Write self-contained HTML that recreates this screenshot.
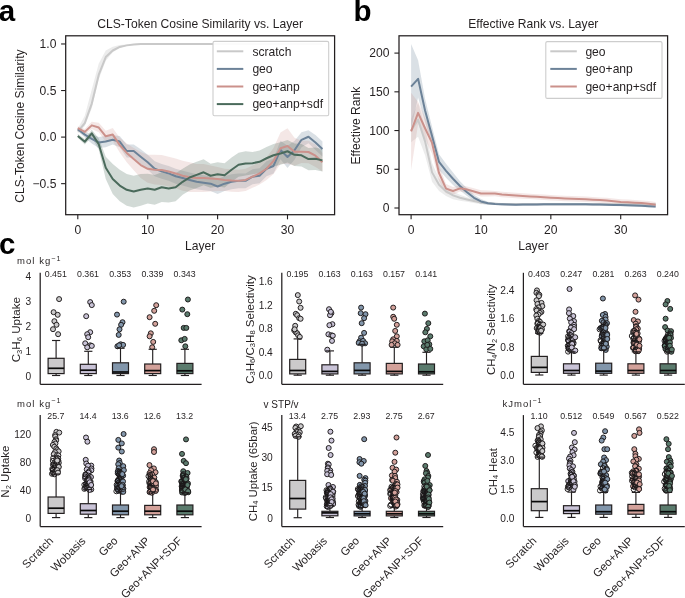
<!DOCTYPE html>
<html><head><meta charset="utf-8"><style>
html,body{margin:0;padding:0;background:#fff;width:685px;height:598px;overflow:hidden}
svg{display:block;font-family:"Liberation Sans", sans-serif;will-change:transform}
</style></head><body>
<svg width="685" height="598" viewBox="0 0 685 598">
<rect width="685" height="598" fill="#fff"/>
<text x="-1.20" y="20.70" font-size="29.5" text-anchor="start" font-weight="bold" fill="#000" >a</text>
<text x="353.60" y="20.70" font-size="29.5" text-anchor="start" font-weight="bold" fill="#000" >b</text>
<text x="-1.00" y="254.30" font-size="29.5" text-anchor="start" font-weight="bold" fill="#000" >c</text>
<defs><clipPath id="ca"><rect x="65.7" y="35.8" width="268.90000000000003" height="178.89999999999998"/></clipPath><clipPath id="cb"><rect x="399" y="35.8" width="268.6" height="178.9"/></clipPath></defs>
<polygon points="77.80,128.72 84.79,115.68 91.78,89.60 98.77,63.53 105.76,50.49 112.75,46.76 119.74,45.09 126.73,44.44 133.72,43.97 140.71,43.50 147.70,43.50 154.69,43.50 161.68,43.50 168.67,43.50 175.66,43.50 182.65,43.50 189.64,43.50 196.63,43.50 203.62,43.50 210.61,43.50 217.60,43.50 224.59,43.50 231.58,43.50 238.57,43.50 245.56,43.50 252.55,43.50 259.54,43.50 266.53,43.50 273.52,43.50 280.51,43.50 287.50,43.50 294.49,43.50 301.48,43.50 308.47,43.50 315.46,43.50 322.45,43.50 322.45,44.44 315.46,44.44 308.47,44.44 301.48,44.44 294.49,44.44 287.50,44.44 280.51,44.44 273.52,44.44 266.53,44.44 259.54,44.44 252.55,44.44 245.56,44.44 238.57,44.44 231.58,44.44 224.59,44.44 217.60,44.44 210.61,44.44 203.62,44.44 196.63,44.44 189.64,44.44 182.65,44.44 175.66,44.44 168.67,44.44 161.68,44.44 154.69,44.44 147.70,44.44 140.71,44.44 133.72,44.90 126.73,45.83 119.74,47.88 112.75,52.35 105.76,60.73 98.77,79.36 91.78,108.23 84.79,125.92 77.80,133.37" fill="#c9c9c9" fill-opacity="0.35" clip-path="url(#ca)"/>
<polygon points="77.80,127.41 84.79,131.79 91.78,134.31 98.77,136.91 105.76,135.98 112.75,135.14 119.74,135.98 126.73,144.55 133.72,144.55 140.71,149.21 147.70,154.79 154.69,161.31 161.68,163.92 168.67,165.97 175.66,168.76 182.65,170.63 189.64,172.49 196.63,174.35 203.62,175.28 210.61,176.21 217.60,179.01 224.59,176.21 231.58,174.35 238.57,173.42 245.56,173.42 252.55,169.23 259.54,168.30 266.53,161.31 273.52,158.52 280.51,140.64 287.50,145.76 294.49,141.01 301.48,132.35 308.47,130.21 315.46,135.05 322.45,141.48 322.45,156.38 315.46,149.95 308.47,143.25 301.48,147.25 294.49,159.64 287.50,168.11 280.51,159.26 273.52,173.42 266.53,176.21 259.54,183.20 252.55,184.13 245.56,188.32 238.57,188.32 231.58,189.25 224.59,191.12 217.60,193.91 210.61,191.12 203.62,190.18 196.63,189.25 189.64,187.39 182.65,185.53 175.66,183.66 168.67,180.87 161.68,178.82 154.69,176.21 147.70,169.70 140.71,164.11 133.72,157.59 126.73,157.59 119.74,147.16 112.75,144.46 105.76,147.16 98.77,148.09 91.78,143.62 84.79,137.38 77.80,131.14" fill="#6c8298" fill-opacity="0.25" clip-path="url(#ca)"/>
<polygon points="77.80,126.20 84.79,129.09 91.78,121.64 98.77,122.85 105.76,130.67 112.75,128.07 119.74,137.66 126.73,143.62 133.72,147.90 140.71,152.00 147.70,154.79 154.69,154.79 161.68,155.07 168.67,156.66 175.66,158.52 182.65,160.85 189.64,162.25 196.63,164.11 203.62,164.11 210.61,165.50 217.60,166.90 224.59,168.76 231.58,169.32 238.57,169.70 245.56,168.76 252.55,165.50 259.54,162.25 266.53,157.59 273.52,147.90 280.51,132.44 287.50,128.25 294.49,137.85 301.48,140.64 308.47,140.83 315.46,144.55 322.45,152.93 322.45,171.56 315.46,166.90 308.47,163.18 301.48,162.99 294.49,165.78 287.50,163.64 280.51,164.11 273.52,173.98 266.53,179.94 259.54,184.60 252.55,187.86 245.56,191.12 238.57,192.05 231.58,191.67 224.59,191.12 217.60,191.12 210.61,191.58 203.62,192.05 196.63,192.05 189.64,192.05 182.65,190.65 175.66,188.32 168.67,186.46 161.68,184.88 154.69,184.60 147.70,182.73 140.71,178.08 133.72,170.25 126.73,162.25 119.74,152.56 112.75,141.10 105.76,141.85 98.77,132.16 91.78,129.09 84.79,134.68 77.80,129.93" fill="#cb918b" fill-opacity="0.22" clip-path="url(#ca)"/>
<polygon points="77.80,134.12 84.79,138.96 91.78,129.65 98.77,138.59 105.76,156.66 112.75,164.11 119.74,169.70 126.73,173.98 133.72,175.75 140.71,173.98 147.70,173.70 154.69,174.91 161.68,172.30 168.67,174.63 175.66,173.23 182.65,168.76 189.64,164.48 196.63,161.87 203.62,159.26 210.61,163.64 217.60,162.25 224.59,163.18 231.58,157.59 238.57,152.65 245.56,151.35 252.55,152.00 259.54,150.60 266.53,147.06 273.52,144.08 280.51,142.32 287.50,140.08 294.49,143.62 301.48,144.08 308.47,147.90 315.46,147.62 322.45,149.21 322.45,171.56 315.46,169.97 308.47,170.25 301.48,166.44 294.49,165.97 287.50,162.43 280.51,164.67 273.52,166.44 266.53,169.42 259.54,172.96 252.55,174.35 245.56,175.56 238.57,176.87 231.58,181.80 224.59,187.39 217.60,186.46 210.61,187.86 203.62,185.34 196.63,187.95 189.64,190.56 182.65,194.84 175.66,201.17 168.67,202.57 161.68,202.10 154.69,204.71 147.70,203.50 140.71,205.64 133.72,207.41 126.73,205.64 119.74,201.36 112.75,193.91 105.76,179.01 98.77,149.77 91.78,137.10 84.79,144.55 77.80,137.85" fill="#4a6a5b" fill-opacity="0.25" clip-path="url(#ca)"/>
<polyline points="77.80,131.51 84.79,123.13 91.78,103.57 98.77,74.70 105.76,57.01 112.75,50.49 119.74,46.95 126.73,45.37 133.72,44.44 140.71,43.97 147.70,43.97 154.69,43.97 161.68,43.97 168.67,43.97 175.66,43.97 182.65,43.97 189.64,43.97 196.63,43.97 203.62,43.97 210.61,43.97 217.60,43.97 224.59,43.97 231.58,43.97 238.57,43.97 245.56,43.97 252.55,43.97 259.54,43.97 266.53,43.97 273.52,43.97 280.51,43.97 287.50,43.97 294.49,43.97 301.48,43.97 308.47,43.97 315.46,43.97 322.45,43.97" fill="none" stroke="#c9c9c9" stroke-width="2.0" stroke-linejoin="round" stroke-linecap="butt" clip-path="url(#ca)"/>
<polyline points="77.80,129.28 84.79,134.59 91.78,138.96 98.77,142.50 105.76,141.57 112.75,139.80 119.74,141.57 126.73,151.07 133.72,151.07 140.71,156.66 147.70,162.25 154.69,168.76 161.68,171.37 168.67,173.42 175.66,176.21 182.65,178.08 189.64,179.94 196.63,181.80 203.62,182.73 210.61,183.66 217.60,186.46 224.59,183.66 231.58,181.80 238.57,180.87 245.56,180.87 252.55,176.68 259.54,175.75 266.53,168.76 273.52,165.97 280.51,149.95 287.50,156.94 294.49,150.32 301.48,139.80 308.47,136.73 315.46,142.50 322.45,148.93" fill="none" stroke="#6c8298" stroke-width="2.0" stroke-linejoin="round" stroke-linecap="butt" clip-path="url(#ca)"/>
<polyline points="77.80,128.07 84.79,131.88 91.78,125.37 98.77,127.51 105.76,136.26 112.75,134.59 119.74,145.11 126.73,152.93 133.72,159.08 140.71,165.04 147.70,168.76 154.69,169.70 161.68,169.97 168.67,171.56 175.66,173.42 182.65,175.75 189.64,177.15 196.63,178.08 203.62,178.08 210.61,178.54 217.60,179.01 224.59,179.94 231.58,180.50 238.57,180.87 245.56,179.94 252.55,176.68 259.54,173.42 266.53,168.76 273.52,160.94 280.51,148.28 287.50,145.95 294.49,151.81 301.48,151.81 308.47,152.00 315.46,155.73 322.45,162.25" fill="none" stroke="#cb918b" stroke-width="2.0" stroke-linejoin="round" stroke-linecap="butt" clip-path="url(#ca)"/>
<polyline points="77.80,135.98 84.79,141.76 91.78,133.37 98.77,144.18 105.76,167.83 112.75,179.01 119.74,185.53 126.73,189.81 133.72,191.58 140.71,189.81 147.70,188.60 154.69,189.81 161.68,187.20 168.67,188.60 175.66,187.20 182.65,181.80 189.64,177.52 196.63,174.91 203.62,172.30 210.61,175.75 217.60,174.35 224.59,175.28 231.58,169.70 238.57,164.76 245.56,163.46 252.55,163.18 259.54,161.78 266.53,158.24 273.52,155.26 280.51,153.49 287.50,151.26 294.49,154.79 301.48,155.26 308.47,159.08 315.46,158.80 322.45,160.38" fill="none" stroke="#4a6a5b" stroke-width="2.0" stroke-linejoin="round" stroke-linecap="butt" clip-path="url(#ca)"/>
<rect x="65.70" y="35.80" width="268.90" height="178.90" fill="none" stroke="#231f20" stroke-width="1.25"/>
<line x1="61.10" y1="43.97" x2="65.70" y2="43.97" stroke="#231f20" stroke-width="1.1" />
<text x="56.40" y="48.32" font-size="12.1" text-anchor="end" font-weight="normal" fill="#231f20" >1.0</text>
<line x1="61.10" y1="90.53" x2="65.70" y2="90.53" stroke="#231f20" stroke-width="1.1" />
<text x="56.40" y="94.88" font-size="12.1" text-anchor="end" font-weight="normal" fill="#231f20" >0.5</text>
<line x1="61.10" y1="137.10" x2="65.70" y2="137.10" stroke="#231f20" stroke-width="1.1" />
<text x="56.40" y="141.45" font-size="12.1" text-anchor="end" font-weight="normal" fill="#231f20" >0.0</text>
<line x1="61.10" y1="183.66" x2="65.70" y2="183.66" stroke="#231f20" stroke-width="1.1" />
<text x="56.40" y="188.01" font-size="12.1" text-anchor="end" font-weight="normal" fill="#231f20" >−0.5</text>
<line x1="77.80" y1="214.70" x2="77.80" y2="219.30" stroke="#231f20" stroke-width="1.1" />
<text x="77.80" y="233.70" font-size="12.1" text-anchor="middle" font-weight="normal" fill="#231f20" >0</text>
<line x1="147.70" y1="214.70" x2="147.70" y2="219.30" stroke="#231f20" stroke-width="1.1" />
<text x="147.70" y="233.70" font-size="12.1" text-anchor="middle" font-weight="normal" fill="#231f20" >10</text>
<line x1="217.60" y1="214.70" x2="217.60" y2="219.30" stroke="#231f20" stroke-width="1.1" />
<text x="217.60" y="233.70" font-size="12.1" text-anchor="middle" font-weight="normal" fill="#231f20" >20</text>
<line x1="287.50" y1="214.70" x2="287.50" y2="219.30" stroke="#231f20" stroke-width="1.1" />
<text x="287.50" y="233.70" font-size="12.1" text-anchor="middle" font-weight="normal" fill="#231f20" >30</text>
<text x="200.15" y="27.80" font-size="12.1" text-anchor="middle" font-weight="normal" fill="#231f20" >CLS-Token Cosine Similarity vs. Layer</text>
<text x="200.15" y="249.80" font-size="12.1" text-anchor="middle" font-weight="normal" fill="#231f20" >Layer</text>
<text transform="translate(23.9,126.0) rotate(-90)" x="0" y="0" font-size="12.1" text-anchor="middle" fill="#231f20">CLS-Token Cosine Similarity</text>
<rect x="213" y="41.4" width="115.7" height="74.4" rx="1.5" fill="#fff" fill-opacity="0.92" stroke="#cdcdcd" stroke-width="1.1"/>
<line x1="216.80" y1="51.30" x2="243.30" y2="51.30" stroke="#c9c9c9" stroke-width="2.0" />
<text x="252.40" y="55.60" font-size="12.1" text-anchor="start" font-weight="normal" fill="#231f20" >scratch</text>
<line x1="216.80" y1="68.90" x2="243.30" y2="68.90" stroke="#6c8298" stroke-width="2.0" />
<text x="252.40" y="73.20" font-size="12.1" text-anchor="start" font-weight="normal" fill="#231f20" >geo</text>
<line x1="216.80" y1="86.50" x2="243.30" y2="86.50" stroke="#cb918b" stroke-width="2.0" />
<text x="252.40" y="90.80" font-size="12.1" text-anchor="start" font-weight="normal" fill="#231f20" >geo+anp</text>
<line x1="216.80" y1="104.10" x2="243.30" y2="104.10" stroke="#4a6a5b" stroke-width="2.0" />
<text x="252.40" y="108.40" font-size="12.1" text-anchor="start" font-weight="normal" fill="#231f20" >geo+anp+sdf</text>
<polygon points="411.10,118.93 418.09,102.67 425.07,127.45 432.06,163.08 439.05,178.57 446.04,186.78 453.02,191.50 460.01,194.68 467.00,197.16 473.98,199.09 480.97,201.03 487.96,202.19 494.94,202.81 501.93,203.20 508.92,203.35 515.90,203.43 522.89,203.43 529.88,203.43 536.87,203.43 543.85,203.43 550.84,203.43 557.83,203.43 564.81,203.43 571.80,203.43 578.79,203.43 585.78,203.43 592.76,203.43 599.75,203.43 606.74,203.43 613.72,203.43 620.71,203.43 627.70,203.43 634.68,203.43 641.67,203.43 648.66,203.43 655.64,203.43 655.64,205.29 648.66,205.29 641.67,205.29 634.68,205.29 627.70,205.29 620.71,205.29 613.72,205.29 606.74,205.29 599.75,205.29 592.76,205.29 585.78,205.29 578.79,205.29 571.80,205.29 564.81,205.29 557.83,205.29 550.84,205.29 543.85,205.29 536.87,205.29 529.88,205.29 522.89,205.29 515.90,205.29 508.92,205.21 501.93,205.06 494.94,204.67 487.96,204.51 480.97,204.13 473.98,202.97 467.00,201.80 460.01,200.87 453.02,199.25 446.04,196.07 439.05,190.96 432.06,181.67 425.07,155.33 418.09,136.75 411.10,142.17" fill="#c9c9c9" fill-opacity="0.35" clip-path="url(#cb)"/>
<polygon points="411.10,44.04 418.09,60.23 425.07,98.80 432.06,126.68 439.05,154.25 446.04,163.85 453.02,172.53 460.01,181.28 467.00,188.33 473.98,194.68 480.97,199.09 487.96,201.73 494.94,202.73 501.93,203.12 508.92,203.35 515.90,203.51 522.89,203.43 529.88,203.35 536.87,203.28 543.85,203.20 550.84,203.12 557.83,203.12 564.81,203.12 571.80,203.12 578.79,203.12 585.78,203.12 592.76,203.28 599.75,203.43 606.74,203.59 613.72,203.74 620.71,203.90 627.70,204.13 634.68,204.36 641.67,204.67 648.66,204.98 655.64,205.37 655.64,207.69 648.66,207.30 641.67,206.99 634.68,206.68 627.70,206.45 620.71,206.22 613.72,206.06 606.74,205.91 599.75,205.75 592.76,205.60 585.78,205.44 578.79,205.44 571.80,205.44 564.81,205.44 557.83,205.44 550.84,205.44 543.85,205.52 536.87,205.60 529.88,205.68 522.89,205.75 515.90,205.83 508.92,205.68 501.93,205.44 494.94,205.06 487.96,204.82 480.97,203.74 473.98,200.87 467.00,196.07 460.01,190.57 453.02,184.92 446.04,177.79 439.05,169.74 432.06,145.27 425.07,122.03 418.09,97.40 411.10,129.23" fill="#6c8298" fill-opacity="0.25" clip-path="url(#cb)"/>
<polygon points="411.10,92.68 418.09,102.05 425.07,117.38 432.06,132.10 439.05,165.40 446.04,183.99 453.02,187.09 460.01,185.23 467.00,186.39 473.98,188.33 480.97,190.34 487.96,190.42 494.94,190.88 501.93,191.74 508.92,192.28 515.90,192.82 522.89,193.21 529.88,193.67 536.87,194.14 543.85,194.52 550.84,194.99 557.83,195.38 564.81,195.76 571.80,196.00 578.79,196.23 585.78,196.46 592.76,196.92 599.75,197.39 606.74,197.85 613.72,198.47 620.71,199.17 627.70,199.56 634.68,199.95 641.67,200.41 648.66,201.11 655.64,202.11 655.64,207.54 648.66,206.53 641.67,205.83 634.68,205.37 627.70,204.98 620.71,204.59 613.72,203.90 606.74,203.28 599.75,202.81 592.76,202.35 585.78,201.88 578.79,201.65 571.80,201.42 564.81,201.18 557.83,200.80 550.84,200.41 543.85,199.95 536.87,199.56 529.88,199.09 522.89,198.63 515.90,198.24 508.92,197.70 501.93,197.16 494.94,196.31 487.96,196.61 480.97,196.54 473.98,194.52 467.00,192.59 460.01,191.43 453.02,194.83 446.04,193.28 439.05,180.89 432.06,153.78 425.07,139.07 418.09,123.73 411.10,170.13" fill="#cb918b" fill-opacity="0.22" clip-path="url(#cb)"/>
<polyline points="411.10,130.55 418.09,119.71 425.07,141.39 432.06,172.37 439.05,184.76 446.04,191.43 453.02,195.38 460.01,197.78 467.00,199.48 473.98,201.03 480.97,202.58 487.96,203.35 494.94,203.74 501.93,204.13 508.92,204.28 515.90,204.36 522.89,204.36 529.88,204.36 536.87,204.36 543.85,204.36 550.84,204.36 557.83,204.36 564.81,204.36 571.80,204.36 578.79,204.36 585.78,204.36 592.76,204.36 599.75,204.36 606.74,204.36 613.72,204.36 620.71,204.36 627.70,204.36 634.68,204.36 641.67,204.36 648.66,204.36 655.64,204.36" fill="none" stroke="#c9c9c9" stroke-width="2.0" stroke-linejoin="round" stroke-linecap="butt" clip-path="url(#cb)"/>
<polyline points="411.10,86.64 418.09,78.81 425.07,110.41 432.06,135.97 439.05,161.99 446.04,170.82 453.02,178.72 460.01,185.93 467.00,192.20 473.98,197.78 480.97,201.42 487.96,203.28 494.94,203.90 501.93,204.28 508.92,204.51 515.90,204.67 522.89,204.59 529.88,204.51 536.87,204.44 543.85,204.36 550.84,204.28 557.83,204.28 564.81,204.28 571.80,204.28 578.79,204.28 585.78,204.28 592.76,204.44 599.75,204.59 606.74,204.75 613.72,204.90 620.71,205.06 627.70,205.29 634.68,205.52 641.67,205.83 648.66,206.14 655.64,206.53" fill="none" stroke="#6c8298" stroke-width="2.0" stroke-linejoin="round" stroke-linecap="butt" clip-path="url(#cb)"/>
<polyline points="411.10,131.40 418.09,112.89 425.07,128.23 432.06,142.94 439.05,173.15 446.04,188.64 453.02,190.96 460.01,188.33 467.00,189.49 473.98,191.43 480.97,193.44 487.96,193.52 494.94,193.59 501.93,194.45 508.92,194.99 515.90,195.53 522.89,195.92 529.88,196.38 536.87,196.85 543.85,197.23 550.84,197.70 557.83,198.09 564.81,198.47 571.80,198.71 578.79,198.94 585.78,199.17 592.76,199.64 599.75,200.10 606.74,200.56 613.72,201.18 620.71,201.88 627.70,202.27 634.68,202.66 641.67,203.12 648.66,203.82 655.64,204.82" fill="none" stroke="#cb918b" stroke-width="2.0" stroke-linejoin="round" stroke-linecap="butt" clip-path="url(#cb)"/>
<rect x="399.00" y="35.80" width="268.60" height="178.90" fill="none" stroke="#231f20" stroke-width="1.25"/>
<line x1="394.40" y1="208.00" x2="399.00" y2="208.00" stroke="#231f20" stroke-width="1.1" />
<text x="389.40" y="212.35" font-size="12.1" text-anchor="end" font-weight="normal" fill="#231f20" >0</text>
<line x1="394.40" y1="169.28" x2="399.00" y2="169.28" stroke="#231f20" stroke-width="1.1" />
<text x="389.40" y="173.62" font-size="12.1" text-anchor="end" font-weight="normal" fill="#231f20" >50</text>
<line x1="394.40" y1="130.55" x2="399.00" y2="130.55" stroke="#231f20" stroke-width="1.1" />
<text x="389.40" y="134.90" font-size="12.1" text-anchor="end" font-weight="normal" fill="#231f20" >100</text>
<line x1="394.40" y1="91.83" x2="399.00" y2="91.83" stroke="#231f20" stroke-width="1.1" />
<text x="389.40" y="96.17" font-size="12.1" text-anchor="end" font-weight="normal" fill="#231f20" >150</text>
<line x1="394.40" y1="53.10" x2="399.00" y2="53.10" stroke="#231f20" stroke-width="1.1" />
<text x="389.40" y="57.45" font-size="12.1" text-anchor="end" font-weight="normal" fill="#231f20" >200</text>
<line x1="411.10" y1="214.70" x2="411.10" y2="219.30" stroke="#231f20" stroke-width="1.1" />
<text x="411.10" y="233.70" font-size="12.1" text-anchor="middle" font-weight="normal" fill="#231f20" >0</text>
<line x1="480.97" y1="214.70" x2="480.97" y2="219.30" stroke="#231f20" stroke-width="1.1" />
<text x="480.97" y="233.70" font-size="12.1" text-anchor="middle" font-weight="normal" fill="#231f20" >10</text>
<line x1="550.84" y1="214.70" x2="550.84" y2="219.30" stroke="#231f20" stroke-width="1.1" />
<text x="550.84" y="233.70" font-size="12.1" text-anchor="middle" font-weight="normal" fill="#231f20" >20</text>
<line x1="620.71" y1="214.70" x2="620.71" y2="219.30" stroke="#231f20" stroke-width="1.1" />
<text x="620.71" y="233.70" font-size="12.1" text-anchor="middle" font-weight="normal" fill="#231f20" >30</text>
<text x="533.30" y="27.80" font-size="12.1" text-anchor="middle" font-weight="normal" fill="#231f20" >Effective Rank vs. Layer</text>
<text x="533.30" y="249.80" font-size="12.1" text-anchor="middle" font-weight="normal" fill="#231f20" >Layer</text>
<text transform="translate(360.3,125.6) rotate(-90)" x="0" y="0" font-size="12.1" text-anchor="middle" fill="#231f20">Effective Rank</text>
<rect x="545.8" y="41.6" width="116.2" height="56.8" rx="1.5" fill="#fff" fill-opacity="0.92" stroke="#cdcdcd" stroke-width="1.1"/>
<line x1="550.30" y1="51.30" x2="576.80" y2="51.30" stroke="#c9c9c9" stroke-width="2.0" />
<text x="585.40" y="55.60" font-size="12.1" text-anchor="start" font-weight="normal" fill="#231f20" >geo</text>
<line x1="550.30" y1="68.90" x2="576.80" y2="68.90" stroke="#6c8298" stroke-width="2.0" />
<text x="585.40" y="73.20" font-size="12.1" text-anchor="start" font-weight="normal" fill="#231f20" >geo+anp</text>
<line x1="550.30" y1="86.50" x2="576.80" y2="86.50" stroke="#cb918b" stroke-width="2.0" />
<text x="585.40" y="90.80" font-size="12.1" text-anchor="start" font-weight="normal" fill="#231f20" >geo+anp+sdf</text>
<line x1="40.20" y1="272.80" x2="40.20" y2="384.30" stroke="#231f20" stroke-width="1.25" />
<line x1="40.20" y1="384.30" x2="201.60" y2="384.30" stroke="#231f20" stroke-width="1.25" />
<text x="31.20" y="379.50" font-size="10.2" text-anchor="end" font-weight="normal" fill="#231f20" >0</text>
<text x="31.20" y="354.50" font-size="10.2" text-anchor="end" font-weight="normal" fill="#231f20" >1</text>
<text x="31.20" y="329.50" font-size="10.2" text-anchor="end" font-weight="normal" fill="#231f20" >2</text>
<text x="31.20" y="304.50" font-size="10.2" text-anchor="end" font-weight="normal" fill="#231f20" >3</text>
<text x="31.20" y="279.50" font-size="10.2" text-anchor="end" font-weight="normal" fill="#231f20" >4</text>
<circle cx="59.10" cy="299.10" r="2.5" fill="#cbcacb" stroke="#1a1718" stroke-width="0.95"/>
<circle cx="53.60" cy="312.20" r="2.5" fill="#cbcacb" stroke="#1a1718" stroke-width="0.95"/>
<circle cx="57.70" cy="314.80" r="2.5" fill="#cbcacb" stroke="#1a1718" stroke-width="0.95"/>
<circle cx="54.40" cy="321.20" r="2.5" fill="#cbcacb" stroke="#1a1718" stroke-width="0.95"/>
<circle cx="56.50" cy="324.80" r="2.5" fill="#cbcacb" stroke="#1a1718" stroke-width="0.95"/>
<circle cx="53.00" cy="329.20" r="2.5" fill="#cbcacb" stroke="#1a1718" stroke-width="0.95"/>
<circle cx="58.10" cy="334.20" r="2.5" fill="#cbcacb" stroke="#1a1718" stroke-width="0.95"/>
<line x1="56.10" y1="340.50" x2="56.10" y2="358.30" stroke="#231f20" stroke-width="1.15" />
<line x1="56.10" y1="373.60" x2="56.10" y2="375.50" stroke="#231f20" stroke-width="1.15" />
<line x1="52.00" y1="340.50" x2="60.20" y2="340.50" stroke="#231f20" stroke-width="1.15" />
<line x1="52.00" y1="375.50" x2="60.20" y2="375.50" stroke="#231f20" stroke-width="1.15" />
<rect x="48.10" y="358.30" width="16.00" height="15.30" fill="#cbcacb" stroke="#231f20" stroke-width="1.2"/>
<line x1="48.10" y1="368.30" x2="64.10" y2="368.30" stroke="#0a0a0a" stroke-width="1.7" />
<text x="55.80" y="276.50" font-size="8.8" text-anchor="middle" font-weight="normal" fill="#231f20" >0.451</text>
<circle cx="90.20" cy="302.10" r="2.5" fill="#c9c3d7" stroke="#1a1718" stroke-width="0.95"/>
<circle cx="91.80" cy="305.10" r="2.5" fill="#c9c3d7" stroke="#1a1718" stroke-width="0.95"/>
<circle cx="86.20" cy="316.20" r="2.5" fill="#c9c3d7" stroke="#1a1718" stroke-width="0.95"/>
<circle cx="90.20" cy="332.20" r="2.5" fill="#c9c3d7" stroke="#1a1718" stroke-width="0.95"/>
<circle cx="87.20" cy="334.20" r="2.5" fill="#c9c3d7" stroke="#1a1718" stroke-width="0.95"/>
<circle cx="88.20" cy="337.20" r="2.5" fill="#c9c3d7" stroke="#1a1718" stroke-width="0.95"/>
<circle cx="85.20" cy="343.30" r="2.5" fill="#c9c3d7" stroke="#1a1718" stroke-width="0.95"/>
<circle cx="90.20" cy="345.30" r="2.5" fill="#c9c3d7" stroke="#1a1718" stroke-width="0.95"/>
<circle cx="87.20" cy="347.30" r="2.5" fill="#c9c3d7" stroke="#1a1718" stroke-width="0.95"/>
<circle cx="91.80" cy="345.90" r="2.5" fill="#c9c3d7" stroke="#1a1718" stroke-width="0.95"/>
<line x1="88.30" y1="351.30" x2="88.30" y2="364.30" stroke="#231f20" stroke-width="1.15" />
<line x1="88.30" y1="373.60" x2="88.30" y2="375.50" stroke="#231f20" stroke-width="1.15" />
<line x1="84.20" y1="351.30" x2="92.40" y2="351.30" stroke="#231f20" stroke-width="1.15" />
<line x1="84.20" y1="375.50" x2="92.40" y2="375.50" stroke="#231f20" stroke-width="1.15" />
<rect x="80.30" y="364.30" width="16.00" height="9.30" fill="#c9c3d7" stroke="#231f20" stroke-width="1.2"/>
<line x1="80.30" y1="370.20" x2="96.30" y2="370.20" stroke="#0a0a0a" stroke-width="1.7" />
<text x="88.00" y="276.50" font-size="8.8" text-anchor="middle" font-weight="normal" fill="#231f20" >0.361</text>
<circle cx="123.70" cy="301.70" r="2.5" fill="#8296ab" stroke="#1a1718" stroke-width="0.95"/>
<circle cx="117.00" cy="314.60" r="2.5" fill="#8296ab" stroke="#1a1718" stroke-width="0.95"/>
<circle cx="122.50" cy="322.20" r="2.5" fill="#8296ab" stroke="#1a1718" stroke-width="0.95"/>
<circle cx="121.10" cy="324.80" r="2.5" fill="#8296ab" stroke="#1a1718" stroke-width="0.95"/>
<circle cx="119.50" cy="329.30" r="2.5" fill="#8296ab" stroke="#1a1718" stroke-width="0.95"/>
<circle cx="118.70" cy="334.90" r="2.5" fill="#8296ab" stroke="#1a1718" stroke-width="0.95"/>
<circle cx="117.40" cy="346.30" r="2.5" fill="#8296ab" stroke="#1a1718" stroke-width="0.95"/>
<circle cx="120.70" cy="344.30" r="2.5" fill="#8296ab" stroke="#1a1718" stroke-width="0.95"/>
<circle cx="123.10" cy="344.90" r="2.5" fill="#8296ab" stroke="#1a1718" stroke-width="0.95"/>
<circle cx="119.10" cy="345.30" r="2.5" fill="#8296ab" stroke="#1a1718" stroke-width="0.95"/>
<line x1="120.50" y1="348.30" x2="120.50" y2="362.80" stroke="#231f20" stroke-width="1.15" />
<line x1="120.50" y1="373.60" x2="120.50" y2="375.50" stroke="#231f20" stroke-width="1.15" />
<line x1="116.40" y1="348.30" x2="124.60" y2="348.30" stroke="#231f20" stroke-width="1.15" />
<line x1="116.40" y1="375.50" x2="124.60" y2="375.50" stroke="#231f20" stroke-width="1.15" />
<rect x="112.50" y="362.80" width="16.00" height="10.80" fill="#8296ab" stroke="#231f20" stroke-width="1.2"/>
<line x1="112.50" y1="372.00" x2="128.50" y2="372.00" stroke="#0a0a0a" stroke-width="1.7" />
<text x="120.20" y="276.50" font-size="8.8" text-anchor="middle" font-weight="normal" fill="#231f20" >0.353</text>
<circle cx="156.20" cy="305.20" r="2.5" fill="#d3a19a" stroke="#1a1718" stroke-width="0.95"/>
<circle cx="154.20" cy="310.80" r="2.5" fill="#d3a19a" stroke="#1a1718" stroke-width="0.95"/>
<circle cx="149.60" cy="317.20" r="2.5" fill="#d3a19a" stroke="#1a1718" stroke-width="0.95"/>
<circle cx="155.20" cy="323.80" r="2.5" fill="#d3a19a" stroke="#1a1718" stroke-width="0.95"/>
<circle cx="150.80" cy="333.30" r="2.5" fill="#d3a19a" stroke="#1a1718" stroke-width="0.95"/>
<circle cx="149.60" cy="336.30" r="2.5" fill="#d3a19a" stroke="#1a1718" stroke-width="0.95"/>
<circle cx="153.20" cy="341.90" r="2.5" fill="#d3a19a" stroke="#1a1718" stroke-width="0.95"/>
<circle cx="152.20" cy="347.30" r="2.5" fill="#d3a19a" stroke="#1a1718" stroke-width="0.95"/>
<line x1="152.70" y1="349.30" x2="152.70" y2="364.00" stroke="#231f20" stroke-width="1.15" />
<line x1="152.70" y1="373.60" x2="152.70" y2="375.50" stroke="#231f20" stroke-width="1.15" />
<line x1="148.60" y1="349.30" x2="156.80" y2="349.30" stroke="#231f20" stroke-width="1.15" />
<line x1="148.60" y1="375.50" x2="156.80" y2="375.50" stroke="#231f20" stroke-width="1.15" />
<rect x="144.70" y="364.00" width="16.00" height="9.60" fill="#d3a19a" stroke="#231f20" stroke-width="1.2"/>
<line x1="144.70" y1="370.60" x2="160.70" y2="370.60" stroke="#0a0a0a" stroke-width="1.7" />
<text x="152.40" y="276.50" font-size="8.8" text-anchor="middle" font-weight="normal" fill="#231f20" >0.339</text>
<circle cx="187.90" cy="299.50" r="2.5" fill="#5b7b6d" stroke="#1a1718" stroke-width="0.95"/>
<circle cx="182.30" cy="309.60" r="2.5" fill="#5b7b6d" stroke="#1a1718" stroke-width="0.95"/>
<circle cx="187.30" cy="314.20" r="2.5" fill="#5b7b6d" stroke="#1a1718" stroke-width="0.95"/>
<circle cx="183.70" cy="327.90" r="2.5" fill="#5b7b6d" stroke="#1a1718" stroke-width="0.95"/>
<circle cx="186.30" cy="327.90" r="2.5" fill="#5b7b6d" stroke="#1a1718" stroke-width="0.95"/>
<circle cx="181.30" cy="340.30" r="2.5" fill="#5b7b6d" stroke="#1a1718" stroke-width="0.95"/>
<circle cx="184.70" cy="338.90" r="2.5" fill="#5b7b6d" stroke="#1a1718" stroke-width="0.95"/>
<circle cx="185.30" cy="346.30" r="2.5" fill="#5b7b6d" stroke="#1a1718" stroke-width="0.95"/>
<line x1="184.90" y1="349.30" x2="184.90" y2="363.40" stroke="#231f20" stroke-width="1.15" />
<line x1="184.90" y1="373.60" x2="184.90" y2="375.50" stroke="#231f20" stroke-width="1.15" />
<line x1="180.80" y1="349.30" x2="189.00" y2="349.30" stroke="#231f20" stroke-width="1.15" />
<line x1="180.80" y1="375.50" x2="189.00" y2="375.50" stroke="#231f20" stroke-width="1.15" />
<rect x="176.90" y="363.40" width="16.00" height="10.20" fill="#5b7b6d" stroke="#231f20" stroke-width="1.2"/>
<line x1="176.90" y1="370.80" x2="192.90" y2="370.80" stroke="#0a0a0a" stroke-width="1.7" />
<text x="184.60" y="276.50" font-size="8.8" text-anchor="middle" font-weight="normal" fill="#231f20" >0.343</text>
<text transform="translate(20.1,329.65) rotate(-90) scale(1.1281,1)" font-size="10.3" text-anchor="middle" fill="#231f20"><tspan dy="0.00">C</tspan><tspan font-size="6.80" dy="1.50">3</tspan><tspan dy="-1.50">H</tspan><tspan font-size="6.80" dy="1.50">6</tspan><tspan dy="-1.50"> Uptake</tspan></text>
<text x="17.0" y="264.4" font-size="9.5" fill="#231f20" letter-spacing="1.05">mol kg<tspan font-size="7.2" dy="-3.6">−</tspan><tspan font-size="7.2">1</tspan></text>
<line x1="281.80" y1="272.80" x2="281.80" y2="384.30" stroke="#231f20" stroke-width="1.25" />
<line x1="281.80" y1="384.30" x2="443.20" y2="384.30" stroke="#231f20" stroke-width="1.25" />
<text x="272.80" y="379.30" font-size="10.2" text-anchor="end" font-weight="normal" fill="#231f20" >0.0</text>
<text x="272.80" y="355.70" font-size="10.2" text-anchor="end" font-weight="normal" fill="#231f20" >0.4</text>
<text x="272.80" y="332.10" font-size="10.2" text-anchor="end" font-weight="normal" fill="#231f20" >0.8</text>
<text x="272.80" y="308.50" font-size="10.2" text-anchor="end" font-weight="normal" fill="#231f20" >1.2</text>
<text x="272.80" y="284.90" font-size="10.2" text-anchor="end" font-weight="normal" fill="#231f20" >1.6</text>
<circle cx="297.80" cy="295.10" r="2.5" fill="#cbcacb" stroke="#1a1718" stroke-width="0.95"/>
<circle cx="299.20" cy="301.50" r="2.5" fill="#cbcacb" stroke="#1a1718" stroke-width="0.95"/>
<circle cx="300.60" cy="307.80" r="2.5" fill="#cbcacb" stroke="#1a1718" stroke-width="0.95"/>
<circle cx="295.80" cy="313.80" r="2.5" fill="#cbcacb" stroke="#1a1718" stroke-width="0.95"/>
<circle cx="297.20" cy="315.20" r="2.5" fill="#cbcacb" stroke="#1a1718" stroke-width="0.95"/>
<circle cx="299.20" cy="318.20" r="2.5" fill="#cbcacb" stroke="#1a1718" stroke-width="0.95"/>
<circle cx="300.60" cy="318.80" r="2.5" fill="#cbcacb" stroke="#1a1718" stroke-width="0.95"/>
<circle cx="295.20" cy="325.80" r="2.5" fill="#cbcacb" stroke="#1a1718" stroke-width="0.95"/>
<circle cx="294.20" cy="330.30" r="2.5" fill="#cbcacb" stroke="#1a1718" stroke-width="0.95"/>
<circle cx="295.80" cy="332.30" r="2.5" fill="#cbcacb" stroke="#1a1718" stroke-width="0.95"/>
<circle cx="297.20" cy="333.30" r="2.5" fill="#cbcacb" stroke="#1a1718" stroke-width="0.95"/>
<circle cx="298.20" cy="335.30" r="2.5" fill="#cbcacb" stroke="#1a1718" stroke-width="0.95"/>
<circle cx="299.80" cy="336.90" r="2.5" fill="#cbcacb" stroke="#1a1718" stroke-width="0.95"/>
<circle cx="294.60" cy="329.30" r="2.5" fill="#cbcacb" stroke="#1a1718" stroke-width="0.95"/>
<line x1="297.70" y1="338.90" x2="297.70" y2="359.40" stroke="#231f20" stroke-width="1.15" />
<line x1="297.70" y1="373.90" x2="297.70" y2="375.20" stroke="#231f20" stroke-width="1.15" />
<line x1="293.60" y1="338.90" x2="301.80" y2="338.90" stroke="#231f20" stroke-width="1.15" />
<line x1="293.60" y1="375.20" x2="301.80" y2="375.20" stroke="#231f20" stroke-width="1.15" />
<rect x="289.70" y="359.40" width="16.00" height="14.50" fill="#cbcacb" stroke="#231f20" stroke-width="1.2"/>
<line x1="289.70" y1="370.50" x2="305.70" y2="370.50" stroke="#0a0a0a" stroke-width="1.7" />
<text x="297.40" y="276.50" font-size="8.8" text-anchor="middle" font-weight="normal" fill="#231f20" >0.195</text>
<circle cx="329.00" cy="309.20" r="2.5" fill="#c9c3d7" stroke="#1a1718" stroke-width="0.95"/>
<circle cx="331.40" cy="313.20" r="2.5" fill="#c9c3d7" stroke="#1a1718" stroke-width="0.95"/>
<circle cx="330.00" cy="315.20" r="2.5" fill="#c9c3d7" stroke="#1a1718" stroke-width="0.95"/>
<circle cx="332.40" cy="324.20" r="2.5" fill="#c9c3d7" stroke="#1a1718" stroke-width="0.95"/>
<circle cx="329.40" cy="325.20" r="2.5" fill="#c9c3d7" stroke="#1a1718" stroke-width="0.95"/>
<circle cx="328.40" cy="334.30" r="2.5" fill="#c9c3d7" stroke="#1a1718" stroke-width="0.95"/>
<circle cx="331.40" cy="335.30" r="2.5" fill="#c9c3d7" stroke="#1a1718" stroke-width="0.95"/>
<circle cx="332.80" cy="335.70" r="2.5" fill="#c9c3d7" stroke="#1a1718" stroke-width="0.95"/>
<circle cx="332.00" cy="340.90" r="2.5" fill="#c9c3d7" stroke="#1a1718" stroke-width="0.95"/>
<circle cx="327.30" cy="349.70" r="2.5" fill="#c9c3d7" stroke="#1a1718" stroke-width="0.95"/>
<circle cx="330.80" cy="311.80" r="2.5" fill="#c9c3d7" stroke="#1a1718" stroke-width="0.95"/>
<line x1="329.90" y1="350.90" x2="329.90" y2="364.80" stroke="#231f20" stroke-width="1.15" />
<line x1="329.90" y1="373.90" x2="329.90" y2="375.20" stroke="#231f20" stroke-width="1.15" />
<line x1="325.80" y1="350.90" x2="334.00" y2="350.90" stroke="#231f20" stroke-width="1.15" />
<line x1="325.80" y1="375.20" x2="334.00" y2="375.20" stroke="#231f20" stroke-width="1.15" />
<rect x="321.90" y="364.80" width="16.00" height="9.10" fill="#c9c3d7" stroke="#231f20" stroke-width="1.2"/>
<line x1="321.90" y1="371.40" x2="337.90" y2="371.40" stroke="#0a0a0a" stroke-width="1.7" />
<text x="329.60" y="276.50" font-size="8.8" text-anchor="middle" font-weight="normal" fill="#231f20" >0.163</text>
<circle cx="361.10" cy="307.60" r="2.5" fill="#8296ab" stroke="#1a1718" stroke-width="0.95"/>
<circle cx="360.70" cy="313.20" r="2.5" fill="#8296ab" stroke="#1a1718" stroke-width="0.95"/>
<circle cx="365.50" cy="314.20" r="2.5" fill="#8296ab" stroke="#1a1718" stroke-width="0.95"/>
<circle cx="364.10" cy="318.20" r="2.5" fill="#8296ab" stroke="#1a1718" stroke-width="0.95"/>
<circle cx="361.70" cy="323.20" r="2.5" fill="#8296ab" stroke="#1a1718" stroke-width="0.95"/>
<circle cx="364.10" cy="332.90" r="2.5" fill="#8296ab" stroke="#1a1718" stroke-width="0.95"/>
<circle cx="361.10" cy="337.70" r="2.5" fill="#8296ab" stroke="#1a1718" stroke-width="0.95"/>
<circle cx="359.50" cy="341.30" r="2.5" fill="#8296ab" stroke="#1a1718" stroke-width="0.95"/>
<circle cx="363.10" cy="340.90" r="2.5" fill="#8296ab" stroke="#1a1718" stroke-width="0.95"/>
<circle cx="365.10" cy="343.30" r="2.5" fill="#8296ab" stroke="#1a1718" stroke-width="0.95"/>
<circle cx="358.70" cy="342.90" r="2.5" fill="#8296ab" stroke="#1a1718" stroke-width="0.95"/>
<circle cx="362.10" cy="343.70" r="2.5" fill="#8296ab" stroke="#1a1718" stroke-width="0.95"/>
<line x1="362.10" y1="344.30" x2="362.10" y2="362.80" stroke="#231f20" stroke-width="1.15" />
<line x1="362.10" y1="373.90" x2="362.10" y2="375.20" stroke="#231f20" stroke-width="1.15" />
<line x1="358.00" y1="344.30" x2="366.20" y2="344.30" stroke="#231f20" stroke-width="1.15" />
<line x1="358.00" y1="375.20" x2="366.20" y2="375.20" stroke="#231f20" stroke-width="1.15" />
<rect x="354.10" y="362.80" width="16.00" height="11.10" fill="#8296ab" stroke="#231f20" stroke-width="1.2"/>
<line x1="354.10" y1="370.40" x2="370.10" y2="370.40" stroke="#0a0a0a" stroke-width="1.7" />
<text x="361.80" y="276.50" font-size="8.8" text-anchor="middle" font-weight="normal" fill="#231f20" >0.163</text>
<circle cx="393.20" cy="307.60" r="2.5" fill="#d3a19a" stroke="#1a1718" stroke-width="0.95"/>
<circle cx="393.20" cy="316.80" r="2.5" fill="#d3a19a" stroke="#1a1718" stroke-width="0.95"/>
<circle cx="394.20" cy="318.80" r="2.5" fill="#d3a19a" stroke="#1a1718" stroke-width="0.95"/>
<circle cx="396.80" cy="324.80" r="2.5" fill="#d3a19a" stroke="#1a1718" stroke-width="0.95"/>
<circle cx="395.20" cy="330.90" r="2.5" fill="#d3a19a" stroke="#1a1718" stroke-width="0.95"/>
<circle cx="396.80" cy="336.30" r="2.5" fill="#d3a19a" stroke="#1a1718" stroke-width="0.95"/>
<circle cx="393.20" cy="339.30" r="2.5" fill="#d3a19a" stroke="#1a1718" stroke-width="0.95"/>
<circle cx="392.20" cy="341.30" r="2.5" fill="#d3a19a" stroke="#1a1718" stroke-width="0.95"/>
<circle cx="396.80" cy="340.90" r="2.5" fill="#d3a19a" stroke="#1a1718" stroke-width="0.95"/>
<circle cx="394.80" cy="343.30" r="2.5" fill="#d3a19a" stroke="#1a1718" stroke-width="0.95"/>
<circle cx="397.60" cy="344.90" r="2.5" fill="#d3a19a" stroke="#1a1718" stroke-width="0.95"/>
<circle cx="391.60" cy="344.90" r="2.5" fill="#d3a19a" stroke="#1a1718" stroke-width="0.95"/>
<line x1="394.30" y1="347.30" x2="394.30" y2="363.40" stroke="#231f20" stroke-width="1.15" />
<line x1="394.30" y1="373.90" x2="394.30" y2="375.20" stroke="#231f20" stroke-width="1.15" />
<line x1="390.20" y1="347.30" x2="398.40" y2="347.30" stroke="#231f20" stroke-width="1.15" />
<line x1="390.20" y1="375.20" x2="398.40" y2="375.20" stroke="#231f20" stroke-width="1.15" />
<rect x="386.30" y="363.40" width="16.00" height="10.50" fill="#d3a19a" stroke="#231f20" stroke-width="1.2"/>
<line x1="386.30" y1="371.40" x2="402.30" y2="371.40" stroke="#0a0a0a" stroke-width="1.7" />
<text x="394.00" y="276.50" font-size="8.8" text-anchor="middle" font-weight="normal" fill="#231f20" >0.157</text>
<circle cx="424.90" cy="313.60" r="2.5" fill="#5b7b6d" stroke="#1a1718" stroke-width="0.95"/>
<circle cx="428.30" cy="323.20" r="2.5" fill="#5b7b6d" stroke="#1a1718" stroke-width="0.95"/>
<circle cx="426.90" cy="328.90" r="2.5" fill="#5b7b6d" stroke="#1a1718" stroke-width="0.95"/>
<circle cx="425.30" cy="332.30" r="2.5" fill="#5b7b6d" stroke="#1a1718" stroke-width="0.95"/>
<circle cx="430.30" cy="336.30" r="2.5" fill="#5b7b6d" stroke="#1a1718" stroke-width="0.95"/>
<circle cx="424.30" cy="341.30" r="2.5" fill="#5b7b6d" stroke="#1a1718" stroke-width="0.95"/>
<circle cx="427.70" cy="340.30" r="2.5" fill="#5b7b6d" stroke="#1a1718" stroke-width="0.95"/>
<circle cx="429.30" cy="344.30" r="2.5" fill="#5b7b6d" stroke="#1a1718" stroke-width="0.95"/>
<circle cx="423.70" cy="346.30" r="2.5" fill="#5b7b6d" stroke="#1a1718" stroke-width="0.95"/>
<circle cx="426.30" cy="349.30" r="2.5" fill="#5b7b6d" stroke="#1a1718" stroke-width="0.95"/>
<circle cx="430.30" cy="348.90" r="2.5" fill="#5b7b6d" stroke="#1a1718" stroke-width="0.95"/>
<circle cx="427.30" cy="344.90" r="2.5" fill="#5b7b6d" stroke="#1a1718" stroke-width="0.95"/>
<line x1="426.50" y1="352.30" x2="426.50" y2="364.00" stroke="#231f20" stroke-width="1.15" />
<line x1="426.50" y1="373.90" x2="426.50" y2="375.20" stroke="#231f20" stroke-width="1.15" />
<line x1="422.40" y1="352.30" x2="430.60" y2="352.30" stroke="#231f20" stroke-width="1.15" />
<line x1="422.40" y1="375.20" x2="430.60" y2="375.20" stroke="#231f20" stroke-width="1.15" />
<rect x="418.50" y="364.00" width="16.00" height="9.90" fill="#5b7b6d" stroke="#231f20" stroke-width="1.2"/>
<line x1="418.50" y1="371.80" x2="434.50" y2="371.80" stroke="#0a0a0a" stroke-width="1.7" />
<text x="426.20" y="276.50" font-size="8.8" text-anchor="middle" font-weight="normal" fill="#231f20" >0.141</text>
<text transform="translate(253.6,329.55) rotate(-90) scale(1.1190,1)" font-size="10.3" text-anchor="middle" fill="#231f20"><tspan dy="0.00">C</tspan><tspan font-size="6.80" dy="1.50">3</tspan><tspan dy="-1.50">H</tspan><tspan font-size="6.80" dy="1.50">6</tspan><tspan dy="-1.50">/C</tspan><tspan font-size="6.80" dy="1.50">3</tspan><tspan dy="-1.50">H</tspan><tspan font-size="6.80" dy="1.50">8</tspan><tspan dy="-1.50"> Selectivity</tspan></text>
<line x1="523.40" y1="272.80" x2="523.40" y2="384.30" stroke="#231f20" stroke-width="1.25" />
<line x1="523.40" y1="384.30" x2="684.80" y2="384.30" stroke="#231f20" stroke-width="1.25" />
<text x="514.40" y="379.00" font-size="10.2" text-anchor="end" font-weight="normal" fill="#231f20" >0.0</text>
<text x="514.40" y="350.68" font-size="10.2" text-anchor="end" font-weight="normal" fill="#231f20" >0.8</text>
<text x="514.40" y="322.36" font-size="10.2" text-anchor="end" font-weight="normal" fill="#231f20" >1.6</text>
<text x="514.40" y="294.04" font-size="10.2" text-anchor="end" font-weight="normal" fill="#231f20" >2.4</text>
<circle cx="536.94" cy="290.40" r="2.5" fill="#cbcacb" stroke="#1a1718" stroke-width="0.95"/>
<circle cx="536.41" cy="292.80" r="2.5" fill="#cbcacb" stroke="#1a1718" stroke-width="0.95"/>
<circle cx="538.39" cy="294.15" r="2.5" fill="#cbcacb" stroke="#1a1718" stroke-width="0.95"/>
<circle cx="539.35" cy="294.90" r="2.5" fill="#cbcacb" stroke="#1a1718" stroke-width="0.95"/>
<circle cx="538.85" cy="296.24" r="2.5" fill="#cbcacb" stroke="#1a1718" stroke-width="0.95"/>
<circle cx="536.54" cy="300.26" r="2.5" fill="#cbcacb" stroke="#1a1718" stroke-width="0.95"/>
<circle cx="541.51" cy="302.91" r="2.5" fill="#cbcacb" stroke="#1a1718" stroke-width="0.95"/>
<circle cx="537.43" cy="304.00" r="2.5" fill="#cbcacb" stroke="#1a1718" stroke-width="0.95"/>
<circle cx="542.32" cy="306.14" r="2.5" fill="#cbcacb" stroke="#1a1718" stroke-width="0.95"/>
<circle cx="538.60" cy="307.40" r="2.5" fill="#cbcacb" stroke="#1a1718" stroke-width="0.95"/>
<circle cx="536.24" cy="309.16" r="2.5" fill="#cbcacb" stroke="#1a1718" stroke-width="0.95"/>
<circle cx="537.88" cy="310.23" r="2.5" fill="#cbcacb" stroke="#1a1718" stroke-width="0.95"/>
<circle cx="536.72" cy="310.57" r="2.5" fill="#cbcacb" stroke="#1a1718" stroke-width="0.95"/>
<circle cx="541.43" cy="311.92" r="2.5" fill="#cbcacb" stroke="#1a1718" stroke-width="0.95"/>
<circle cx="539.85" cy="312.91" r="2.5" fill="#cbcacb" stroke="#1a1718" stroke-width="0.95"/>
<circle cx="538.44" cy="314.53" r="2.5" fill="#cbcacb" stroke="#1a1718" stroke-width="0.95"/>
<circle cx="536.35" cy="315.52" r="2.5" fill="#cbcacb" stroke="#1a1718" stroke-width="0.95"/>
<circle cx="537.32" cy="318.67" r="2.5" fill="#cbcacb" stroke="#1a1718" stroke-width="0.95"/>
<circle cx="538.81" cy="321.02" r="2.5" fill="#cbcacb" stroke="#1a1718" stroke-width="0.95"/>
<circle cx="539.88" cy="321.75" r="2.5" fill="#cbcacb" stroke="#1a1718" stroke-width="0.95"/>
<circle cx="537.95" cy="322.98" r="2.5" fill="#cbcacb" stroke="#1a1718" stroke-width="0.95"/>
<circle cx="540.64" cy="324.32" r="2.5" fill="#cbcacb" stroke="#1a1718" stroke-width="0.95"/>
<circle cx="539.80" cy="324.76" r="2.5" fill="#cbcacb" stroke="#1a1718" stroke-width="0.95"/>
<circle cx="541.83" cy="325.95" r="2.5" fill="#cbcacb" stroke="#1a1718" stroke-width="0.95"/>
<circle cx="537.87" cy="327.03" r="2.5" fill="#cbcacb" stroke="#1a1718" stroke-width="0.95"/>
<circle cx="536.72" cy="328.12" r="2.5" fill="#cbcacb" stroke="#1a1718" stroke-width="0.95"/>
<circle cx="541.04" cy="328.49" r="2.5" fill="#cbcacb" stroke="#1a1718" stroke-width="0.95"/>
<circle cx="539.23" cy="329.11" r="2.5" fill="#cbcacb" stroke="#1a1718" stroke-width="0.95"/>
<circle cx="540.44" cy="329.85" r="2.5" fill="#cbcacb" stroke="#1a1718" stroke-width="0.95"/>
<circle cx="539.79" cy="331.24" r="2.5" fill="#cbcacb" stroke="#1a1718" stroke-width="0.95"/>
<circle cx="538.04" cy="332.12" r="2.5" fill="#cbcacb" stroke="#1a1718" stroke-width="0.95"/>
<circle cx="539.94" cy="332.76" r="2.5" fill="#cbcacb" stroke="#1a1718" stroke-width="0.95"/>
<circle cx="537.29" cy="323.59" r="2.5" fill="none" stroke="#1a1718" stroke-width="0.95"/>
<circle cx="539.63" cy="327.06" r="2.5" fill="none" stroke="#1a1718" stroke-width="0.95"/>
<circle cx="538.29" cy="328.80" r="2.5" fill="none" stroke="#1a1718" stroke-width="0.95"/>
<circle cx="538.47" cy="330.42" r="2.5" fill="none" stroke="#1a1718" stroke-width="0.95"/>
<circle cx="543.15" cy="324.56" r="2.5" fill="#cbcacb" stroke="#1a1718" stroke-width="0.95"/>
<circle cx="540.49" cy="327.86" r="2.5" fill="#cbcacb" stroke="#1a1718" stroke-width="0.95"/>
<circle cx="541.93" cy="329.28" r="2.5" fill="#cbcacb" stroke="#1a1718" stroke-width="0.95"/>
<circle cx="541.16" cy="330.79" r="2.5" fill="#cbcacb" stroke="#1a1718" stroke-width="0.95"/>
<line x1="539.30" y1="333.30" x2="539.30" y2="356.40" stroke="#231f20" stroke-width="1.15" />
<line x1="539.30" y1="372.40" x2="539.30" y2="375.00" stroke="#231f20" stroke-width="1.15" />
<line x1="535.20" y1="333.30" x2="543.40" y2="333.30" stroke="#231f20" stroke-width="1.15" />
<line x1="535.20" y1="375.00" x2="543.40" y2="375.00" stroke="#231f20" stroke-width="1.15" />
<rect x="531.30" y="356.40" width="16.00" height="16.00" fill="#cbcacb" stroke="#231f20" stroke-width="1.2"/>
<line x1="531.30" y1="367.40" x2="547.30" y2="367.40" stroke="#0a0a0a" stroke-width="1.7" />
<text x="539.00" y="276.50" font-size="8.8" text-anchor="middle" font-weight="normal" fill="#231f20" >0.403</text>
<circle cx="569.50" cy="289.00" r="2.5" fill="#c9c3d7" stroke="#1a1718" stroke-width="0.95"/>
<circle cx="569.10" cy="309.40" r="2.5" fill="#c9c3d7" stroke="#1a1718" stroke-width="0.95"/>
<circle cx="568.92" cy="313.11" r="2.5" fill="#c9c3d7" stroke="#1a1718" stroke-width="0.95"/>
<circle cx="573.31" cy="316.04" r="2.5" fill="#c9c3d7" stroke="#1a1718" stroke-width="0.95"/>
<circle cx="569.80" cy="318.59" r="2.5" fill="#c9c3d7" stroke="#1a1718" stroke-width="0.95"/>
<circle cx="574.01" cy="321.13" r="2.5" fill="#c9c3d7" stroke="#1a1718" stroke-width="0.95"/>
<circle cx="571.16" cy="322.39" r="2.5" fill="#c9c3d7" stroke="#1a1718" stroke-width="0.95"/>
<circle cx="574.09" cy="324.88" r="2.5" fill="#c9c3d7" stroke="#1a1718" stroke-width="0.95"/>
<circle cx="573.96" cy="326.88" r="2.5" fill="#c9c3d7" stroke="#1a1718" stroke-width="0.95"/>
<circle cx="570.93" cy="327.58" r="2.5" fill="#c9c3d7" stroke="#1a1718" stroke-width="0.95"/>
<circle cx="574.09" cy="329.16" r="2.5" fill="#c9c3d7" stroke="#1a1718" stroke-width="0.95"/>
<circle cx="569.14" cy="331.40" r="2.5" fill="#c9c3d7" stroke="#1a1718" stroke-width="0.95"/>
<circle cx="569.69" cy="331.70" r="2.5" fill="#c9c3d7" stroke="#1a1718" stroke-width="0.95"/>
<circle cx="571.40" cy="333.11" r="2.5" fill="#c9c3d7" stroke="#1a1718" stroke-width="0.95"/>
<circle cx="569.90" cy="334.86" r="2.5" fill="#c9c3d7" stroke="#1a1718" stroke-width="0.95"/>
<circle cx="570.95" cy="335.38" r="2.5" fill="#c9c3d7" stroke="#1a1718" stroke-width="0.95"/>
<circle cx="571.95" cy="337.08" r="2.5" fill="#c9c3d7" stroke="#1a1718" stroke-width="0.95"/>
<circle cx="572.79" cy="338.98" r="2.5" fill="#c9c3d7" stroke="#1a1718" stroke-width="0.95"/>
<circle cx="572.29" cy="339.64" r="2.5" fill="#c9c3d7" stroke="#1a1718" stroke-width="0.95"/>
<circle cx="568.49" cy="340.99" r="2.5" fill="#c9c3d7" stroke="#1a1718" stroke-width="0.95"/>
<circle cx="573.39" cy="342.38" r="2.5" fill="#c9c3d7" stroke="#1a1718" stroke-width="0.95"/>
<circle cx="573.51" cy="343.47" r="2.5" fill="#c9c3d7" stroke="#1a1718" stroke-width="0.95"/>
<circle cx="570.82" cy="344.04" r="2.5" fill="#c9c3d7" stroke="#1a1718" stroke-width="0.95"/>
<circle cx="572.41" cy="344.82" r="2.5" fill="#c9c3d7" stroke="#1a1718" stroke-width="0.95"/>
<circle cx="568.58" cy="345.85" r="2.5" fill="#c9c3d7" stroke="#1a1718" stroke-width="0.95"/>
<circle cx="569.22" cy="347.08" r="2.5" fill="#c9c3d7" stroke="#1a1718" stroke-width="0.95"/>
<circle cx="568.48" cy="348.26" r="2.5" fill="#c9c3d7" stroke="#1a1718" stroke-width="0.95"/>
<circle cx="569.15" cy="348.95" r="2.5" fill="#c9c3d7" stroke="#1a1718" stroke-width="0.95"/>
<circle cx="570.58" cy="350.08" r="2.5" fill="#c9c3d7" stroke="#1a1718" stroke-width="0.95"/>
<circle cx="574.03" cy="351.02" r="2.5" fill="#c9c3d7" stroke="#1a1718" stroke-width="0.95"/>
<circle cx="568.01" cy="336.30" r="2.5" fill="none" stroke="#1a1718" stroke-width="0.95"/>
<circle cx="568.97" cy="337.66" r="2.5" fill="none" stroke="#1a1718" stroke-width="0.95"/>
<circle cx="567.89" cy="340.02" r="2.5" fill="none" stroke="#1a1718" stroke-width="0.95"/>
<circle cx="572.07" cy="343.18" r="2.5" fill="none" stroke="#1a1718" stroke-width="0.95"/>
<circle cx="569.62" cy="344.49" r="2.5" fill="none" stroke="#1a1718" stroke-width="0.95"/>
<circle cx="567.79" cy="345.81" r="2.5" fill="none" stroke="#1a1718" stroke-width="0.95"/>
<circle cx="568.57" cy="348.48" r="2.5" fill="none" stroke="#1a1718" stroke-width="0.95"/>
<circle cx="568.07" cy="351.64" r="2.5" fill="none" stroke="#1a1718" stroke-width="0.95"/>
<circle cx="575.19" cy="337.24" r="2.5" fill="#c9c3d7" stroke="#1a1718" stroke-width="0.95"/>
<circle cx="572.17" cy="343.95" r="2.5" fill="#c9c3d7" stroke="#1a1718" stroke-width="0.95"/>
<circle cx="571.73" cy="347.44" r="2.5" fill="#c9c3d7" stroke="#1a1718" stroke-width="0.95"/>
<circle cx="575.29" cy="350.57" r="2.5" fill="#c9c3d7" stroke="#1a1718" stroke-width="0.95"/>
<line x1="571.50" y1="351.80" x2="571.50" y2="363.80" stroke="#231f20" stroke-width="1.15" />
<line x1="571.50" y1="373.30" x2="571.50" y2="375.10" stroke="#231f20" stroke-width="1.15" />
<line x1="567.40" y1="351.80" x2="575.60" y2="351.80" stroke="#231f20" stroke-width="1.15" />
<line x1="567.40" y1="375.10" x2="575.60" y2="375.10" stroke="#231f20" stroke-width="1.15" />
<rect x="563.50" y="363.80" width="16.00" height="9.50" fill="#c9c3d7" stroke="#231f20" stroke-width="1.2"/>
<line x1="563.50" y1="370.50" x2="579.50" y2="370.50" stroke="#0a0a0a" stroke-width="1.7" />
<text x="571.20" y="276.50" font-size="8.8" text-anchor="middle" font-weight="normal" fill="#231f20" >0.247</text>
<circle cx="602.90" cy="298.50" r="2.5" fill="#8296ab" stroke="#1a1718" stroke-width="0.95"/>
<circle cx="605.02" cy="313.98" r="2.5" fill="#8296ab" stroke="#1a1718" stroke-width="0.95"/>
<circle cx="602.80" cy="314.97" r="2.5" fill="#8296ab" stroke="#1a1718" stroke-width="0.95"/>
<circle cx="605.54" cy="316.94" r="2.5" fill="#8296ab" stroke="#1a1718" stroke-width="0.95"/>
<circle cx="605.58" cy="319.49" r="2.5" fill="#8296ab" stroke="#1a1718" stroke-width="0.95"/>
<circle cx="601.83" cy="320.84" r="2.5" fill="#8296ab" stroke="#1a1718" stroke-width="0.95"/>
<circle cx="606.97" cy="323.16" r="2.5" fill="#8296ab" stroke="#1a1718" stroke-width="0.95"/>
<circle cx="605.77" cy="324.68" r="2.5" fill="#8296ab" stroke="#1a1718" stroke-width="0.95"/>
<circle cx="605.32" cy="326.03" r="2.5" fill="#8296ab" stroke="#1a1718" stroke-width="0.95"/>
<circle cx="603.82" cy="326.59" r="2.5" fill="#8296ab" stroke="#1a1718" stroke-width="0.95"/>
<circle cx="600.52" cy="328.08" r="2.5" fill="#8296ab" stroke="#1a1718" stroke-width="0.95"/>
<circle cx="602.21" cy="328.95" r="2.5" fill="#8296ab" stroke="#1a1718" stroke-width="0.95"/>
<circle cx="605.00" cy="330.49" r="2.5" fill="#8296ab" stroke="#1a1718" stroke-width="0.95"/>
<circle cx="603.34" cy="332.53" r="2.5" fill="#8296ab" stroke="#1a1718" stroke-width="0.95"/>
<circle cx="606.99" cy="333.68" r="2.5" fill="#8296ab" stroke="#1a1718" stroke-width="0.95"/>
<circle cx="602.79" cy="334.84" r="2.5" fill="#8296ab" stroke="#1a1718" stroke-width="0.95"/>
<circle cx="601.86" cy="335.14" r="2.5" fill="#8296ab" stroke="#1a1718" stroke-width="0.95"/>
<circle cx="601.70" cy="336.23" r="2.5" fill="#8296ab" stroke="#1a1718" stroke-width="0.95"/>
<circle cx="606.40" cy="337.78" r="2.5" fill="#8296ab" stroke="#1a1718" stroke-width="0.95"/>
<circle cx="603.56" cy="339.08" r="2.5" fill="#8296ab" stroke="#1a1718" stroke-width="0.95"/>
<circle cx="605.72" cy="339.93" r="2.5" fill="#8296ab" stroke="#1a1718" stroke-width="0.95"/>
<circle cx="604.78" cy="340.38" r="2.5" fill="#8296ab" stroke="#1a1718" stroke-width="0.95"/>
<circle cx="605.61" cy="342.24" r="2.5" fill="#8296ab" stroke="#1a1718" stroke-width="0.95"/>
<circle cx="603.55" cy="343.08" r="2.5" fill="#8296ab" stroke="#1a1718" stroke-width="0.95"/>
<circle cx="605.65" cy="343.51" r="2.5" fill="#8296ab" stroke="#1a1718" stroke-width="0.95"/>
<circle cx="605.73" cy="344.64" r="2.5" fill="#8296ab" stroke="#1a1718" stroke-width="0.95"/>
<circle cx="603.00" cy="346.23" r="2.5" fill="#8296ab" stroke="#1a1718" stroke-width="0.95"/>
<circle cx="606.72" cy="346.64" r="2.5" fill="#8296ab" stroke="#1a1718" stroke-width="0.95"/>
<circle cx="601.47" cy="347.89" r="2.5" fill="#8296ab" stroke="#1a1718" stroke-width="0.95"/>
<circle cx="601.35" cy="348.27" r="2.5" fill="#8296ab" stroke="#1a1718" stroke-width="0.95"/>
<circle cx="605.77" cy="349.91" r="2.5" fill="#8296ab" stroke="#1a1718" stroke-width="0.95"/>
<circle cx="603.47" cy="322.34" r="2.5" fill="none" stroke="#1a1718" stroke-width="0.95"/>
<circle cx="602.65" cy="326.62" r="2.5" fill="none" stroke="#1a1718" stroke-width="0.95"/>
<circle cx="602.13" cy="327.48" r="2.5" fill="none" stroke="#1a1718" stroke-width="0.95"/>
<circle cx="599.57" cy="329.31" r="2.5" fill="none" stroke="#1a1718" stroke-width="0.95"/>
<circle cx="602.62" cy="333.60" r="2.5" fill="none" stroke="#1a1718" stroke-width="0.95"/>
<circle cx="603.98" cy="334.90" r="2.5" fill="none" stroke="#1a1718" stroke-width="0.95"/>
<circle cx="603.68" cy="337.01" r="2.5" fill="none" stroke="#1a1718" stroke-width="0.95"/>
<circle cx="600.51" cy="340.26" r="2.5" fill="none" stroke="#1a1718" stroke-width="0.95"/>
<circle cx="600.91" cy="341.25" r="2.5" fill="none" stroke="#1a1718" stroke-width="0.95"/>
<circle cx="602.31" cy="343.56" r="2.5" fill="none" stroke="#1a1718" stroke-width="0.95"/>
<circle cx="601.51" cy="345.94" r="2.5" fill="none" stroke="#1a1718" stroke-width="0.95"/>
<circle cx="603.87" cy="347.97" r="2.5" fill="none" stroke="#1a1718" stroke-width="0.95"/>
<circle cx="605.54" cy="328.00" r="2.5" fill="#8296ab" stroke="#1a1718" stroke-width="0.95"/>
<circle cx="607.22" cy="334.96" r="2.5" fill="#8296ab" stroke="#1a1718" stroke-width="0.95"/>
<circle cx="607.27" cy="338.99" r="2.5" fill="#8296ab" stroke="#1a1718" stroke-width="0.95"/>
<circle cx="605.82" cy="343.80" r="2.5" fill="#8296ab" stroke="#1a1718" stroke-width="0.95"/>
<circle cx="603.90" cy="348.08" r="2.5" fill="#8296ab" stroke="#1a1718" stroke-width="0.95"/>
<line x1="603.70" y1="349.90" x2="603.70" y2="363.20" stroke="#231f20" stroke-width="1.15" />
<line x1="603.70" y1="373.30" x2="603.70" y2="375.10" stroke="#231f20" stroke-width="1.15" />
<line x1="599.60" y1="349.90" x2="607.80" y2="349.90" stroke="#231f20" stroke-width="1.15" />
<line x1="599.60" y1="375.10" x2="607.80" y2="375.10" stroke="#231f20" stroke-width="1.15" />
<rect x="595.70" y="363.20" width="16.00" height="10.10" fill="#8296ab" stroke="#231f20" stroke-width="1.2"/>
<line x1="595.70" y1="371.10" x2="611.70" y2="371.10" stroke="#0a0a0a" stroke-width="1.7" />
<text x="603.40" y="276.50" font-size="8.8" text-anchor="middle" font-weight="normal" fill="#231f20" >0.281</text>
<circle cx="635.10" cy="295.40" r="2.5" fill="#d3a19a" stroke="#1a1718" stroke-width="0.95"/>
<circle cx="638.50" cy="299.60" r="2.5" fill="#d3a19a" stroke="#1a1718" stroke-width="0.95"/>
<circle cx="635.50" cy="311.80" r="2.5" fill="#d3a19a" stroke="#1a1718" stroke-width="0.95"/>
<circle cx="633.76" cy="320.05" r="2.5" fill="#d3a19a" stroke="#1a1718" stroke-width="0.95"/>
<circle cx="637.92" cy="321.42" r="2.5" fill="#d3a19a" stroke="#1a1718" stroke-width="0.95"/>
<circle cx="635.72" cy="323.66" r="2.5" fill="#d3a19a" stroke="#1a1718" stroke-width="0.95"/>
<circle cx="636.28" cy="326.12" r="2.5" fill="#d3a19a" stroke="#1a1718" stroke-width="0.95"/>
<circle cx="636.02" cy="326.99" r="2.5" fill="#d3a19a" stroke="#1a1718" stroke-width="0.95"/>
<circle cx="637.82" cy="328.65" r="2.5" fill="#d3a19a" stroke="#1a1718" stroke-width="0.95"/>
<circle cx="636.31" cy="329.36" r="2.5" fill="#d3a19a" stroke="#1a1718" stroke-width="0.95"/>
<circle cx="634.39" cy="330.77" r="2.5" fill="#d3a19a" stroke="#1a1718" stroke-width="0.95"/>
<circle cx="635.95" cy="332.55" r="2.5" fill="#d3a19a" stroke="#1a1718" stroke-width="0.95"/>
<circle cx="637.65" cy="333.44" r="2.5" fill="#d3a19a" stroke="#1a1718" stroke-width="0.95"/>
<circle cx="635.52" cy="334.90" r="2.5" fill="#d3a19a" stroke="#1a1718" stroke-width="0.95"/>
<circle cx="635.94" cy="335.64" r="2.5" fill="#d3a19a" stroke="#1a1718" stroke-width="0.95"/>
<circle cx="637.20" cy="336.57" r="2.5" fill="#d3a19a" stroke="#1a1718" stroke-width="0.95"/>
<circle cx="636.12" cy="337.52" r="2.5" fill="#d3a19a" stroke="#1a1718" stroke-width="0.95"/>
<circle cx="638.88" cy="338.54" r="2.5" fill="#d3a19a" stroke="#1a1718" stroke-width="0.95"/>
<circle cx="638.44" cy="339.72" r="2.5" fill="#d3a19a" stroke="#1a1718" stroke-width="0.95"/>
<circle cx="634.28" cy="340.89" r="2.5" fill="#d3a19a" stroke="#1a1718" stroke-width="0.95"/>
<circle cx="638.89" cy="341.46" r="2.5" fill="#d3a19a" stroke="#1a1718" stroke-width="0.95"/>
<circle cx="633.45" cy="342.63" r="2.5" fill="#d3a19a" stroke="#1a1718" stroke-width="0.95"/>
<circle cx="635.51" cy="342.89" r="2.5" fill="#d3a19a" stroke="#1a1718" stroke-width="0.95"/>
<circle cx="634.15" cy="343.74" r="2.5" fill="#d3a19a" stroke="#1a1718" stroke-width="0.95"/>
<circle cx="637.04" cy="344.62" r="2.5" fill="#d3a19a" stroke="#1a1718" stroke-width="0.95"/>
<circle cx="638.58" cy="346.10" r="2.5" fill="#d3a19a" stroke="#1a1718" stroke-width="0.95"/>
<circle cx="637.36" cy="346.41" r="2.5" fill="#d3a19a" stroke="#1a1718" stroke-width="0.95"/>
<circle cx="633.49" cy="347.68" r="2.5" fill="#d3a19a" stroke="#1a1718" stroke-width="0.95"/>
<circle cx="639.06" cy="348.69" r="2.5" fill="#d3a19a" stroke="#1a1718" stroke-width="0.95"/>
<circle cx="638.95" cy="348.97" r="2.5" fill="#d3a19a" stroke="#1a1718" stroke-width="0.95"/>
<circle cx="635.81" cy="349.93" r="2.5" fill="#d3a19a" stroke="#1a1718" stroke-width="0.95"/>
<circle cx="638.14" cy="351.20" r="2.5" fill="#d3a19a" stroke="#1a1718" stroke-width="0.95"/>
<circle cx="635.44" cy="351.34" r="2.5" fill="#d3a19a" stroke="#1a1718" stroke-width="0.95"/>
<circle cx="633.33" cy="331.13" r="2.5" fill="none" stroke="#1a1718" stroke-width="0.95"/>
<circle cx="633.23" cy="332.63" r="2.5" fill="none" stroke="#1a1718" stroke-width="0.95"/>
<circle cx="631.79" cy="335.99" r="2.5" fill="none" stroke="#1a1718" stroke-width="0.95"/>
<circle cx="633.81" cy="337.82" r="2.5" fill="none" stroke="#1a1718" stroke-width="0.95"/>
<circle cx="633.29" cy="338.84" r="2.5" fill="none" stroke="#1a1718" stroke-width="0.95"/>
<circle cx="634.16" cy="342.37" r="2.5" fill="none" stroke="#1a1718" stroke-width="0.95"/>
<circle cx="636.43" cy="343.34" r="2.5" fill="none" stroke="#1a1718" stroke-width="0.95"/>
<circle cx="636.36" cy="347.13" r="2.5" fill="none" stroke="#1a1718" stroke-width="0.95"/>
<circle cx="632.97" cy="347.83" r="2.5" fill="none" stroke="#1a1718" stroke-width="0.95"/>
<circle cx="635.44" cy="349.89" r="2.5" fill="none" stroke="#1a1718" stroke-width="0.95"/>
<circle cx="636.51" cy="333.94" r="2.5" fill="#d3a19a" stroke="#1a1718" stroke-width="0.95"/>
<circle cx="639.44" cy="339.32" r="2.5" fill="#d3a19a" stroke="#1a1718" stroke-width="0.95"/>
<circle cx="636.99" cy="344.65" r="2.5" fill="#d3a19a" stroke="#1a1718" stroke-width="0.95"/>
<circle cx="639.47" cy="345.82" r="2.5" fill="#d3a19a" stroke="#1a1718" stroke-width="0.95"/>
<circle cx="638.65" cy="350.61" r="2.5" fill="#d3a19a" stroke="#1a1718" stroke-width="0.95"/>
<line x1="635.90" y1="351.80" x2="635.90" y2="363.80" stroke="#231f20" stroke-width="1.15" />
<line x1="635.90" y1="373.30" x2="635.90" y2="375.10" stroke="#231f20" stroke-width="1.15" />
<line x1="631.80" y1="351.80" x2="640.00" y2="351.80" stroke="#231f20" stroke-width="1.15" />
<line x1="631.80" y1="375.10" x2="640.00" y2="375.10" stroke="#231f20" stroke-width="1.15" />
<rect x="627.90" y="363.80" width="16.00" height="9.50" fill="#d3a19a" stroke="#231f20" stroke-width="1.2"/>
<line x1="627.90" y1="370.50" x2="643.90" y2="370.50" stroke="#0a0a0a" stroke-width="1.7" />
<text x="635.60" y="276.50" font-size="8.8" text-anchor="middle" font-weight="normal" fill="#231f20" >0.263</text>
<circle cx="667.40" cy="301.00" r="2.5" fill="#5b7b6d" stroke="#1a1718" stroke-width="0.95"/>
<circle cx="665.60" cy="304.40" r="2.5" fill="#5b7b6d" stroke="#1a1718" stroke-width="0.95"/>
<circle cx="670.20" cy="308.90" r="2.5" fill="#5b7b6d" stroke="#1a1718" stroke-width="0.95"/>
<circle cx="665.60" cy="318.70" r="2.5" fill="#5b7b6d" stroke="#1a1718" stroke-width="0.95"/>
<circle cx="665.11" cy="327.11" r="2.5" fill="#5b7b6d" stroke="#1a1718" stroke-width="0.95"/>
<circle cx="667.60" cy="330.56" r="2.5" fill="#5b7b6d" stroke="#1a1718" stroke-width="0.95"/>
<circle cx="671.06" cy="331.17" r="2.5" fill="#5b7b6d" stroke="#1a1718" stroke-width="0.95"/>
<circle cx="670.14" cy="333.38" r="2.5" fill="#5b7b6d" stroke="#1a1718" stroke-width="0.95"/>
<circle cx="670.50" cy="333.95" r="2.5" fill="#5b7b6d" stroke="#1a1718" stroke-width="0.95"/>
<circle cx="670.55" cy="335.15" r="2.5" fill="#5b7b6d" stroke="#1a1718" stroke-width="0.95"/>
<circle cx="667.01" cy="336.73" r="2.5" fill="#5b7b6d" stroke="#1a1718" stroke-width="0.95"/>
<circle cx="670.98" cy="337.91" r="2.5" fill="#5b7b6d" stroke="#1a1718" stroke-width="0.95"/>
<circle cx="665.60" cy="338.65" r="2.5" fill="#5b7b6d" stroke="#1a1718" stroke-width="0.95"/>
<circle cx="666.33" cy="339.90" r="2.5" fill="#5b7b6d" stroke="#1a1718" stroke-width="0.95"/>
<circle cx="665.81" cy="340.47" r="2.5" fill="#5b7b6d" stroke="#1a1718" stroke-width="0.95"/>
<circle cx="666.09" cy="341.36" r="2.5" fill="#5b7b6d" stroke="#1a1718" stroke-width="0.95"/>
<circle cx="666.78" cy="342.52" r="2.5" fill="#5b7b6d" stroke="#1a1718" stroke-width="0.95"/>
<circle cx="666.68" cy="343.81" r="2.5" fill="#5b7b6d" stroke="#1a1718" stroke-width="0.95"/>
<circle cx="665.93" cy="344.45" r="2.5" fill="#5b7b6d" stroke="#1a1718" stroke-width="0.95"/>
<circle cx="664.85" cy="345.17" r="2.5" fill="#5b7b6d" stroke="#1a1718" stroke-width="0.95"/>
<circle cx="664.83" cy="345.93" r="2.5" fill="#5b7b6d" stroke="#1a1718" stroke-width="0.95"/>
<circle cx="668.44" cy="347.15" r="2.5" fill="#5b7b6d" stroke="#1a1718" stroke-width="0.95"/>
<circle cx="667.93" cy="347.52" r="2.5" fill="#5b7b6d" stroke="#1a1718" stroke-width="0.95"/>
<circle cx="665.44" cy="348.91" r="2.5" fill="#5b7b6d" stroke="#1a1718" stroke-width="0.95"/>
<circle cx="667.64" cy="349.59" r="2.5" fill="#5b7b6d" stroke="#1a1718" stroke-width="0.95"/>
<circle cx="670.36" cy="350.11" r="2.5" fill="#5b7b6d" stroke="#1a1718" stroke-width="0.95"/>
<circle cx="668.15" cy="350.80" r="2.5" fill="#5b7b6d" stroke="#1a1718" stroke-width="0.95"/>
<circle cx="671.36" cy="351.77" r="2.5" fill="#5b7b6d" stroke="#1a1718" stroke-width="0.95"/>
<circle cx="667.89" cy="334.77" r="2.5" fill="none" stroke="#1a1718" stroke-width="0.95"/>
<circle cx="666.95" cy="337.84" r="2.5" fill="none" stroke="#1a1718" stroke-width="0.95"/>
<circle cx="665.57" cy="339.41" r="2.5" fill="none" stroke="#1a1718" stroke-width="0.95"/>
<circle cx="664.52" cy="340.87" r="2.5" fill="none" stroke="#1a1718" stroke-width="0.95"/>
<circle cx="667.46" cy="343.16" r="2.5" fill="none" stroke="#1a1718" stroke-width="0.95"/>
<circle cx="664.68" cy="345.83" r="2.5" fill="none" stroke="#1a1718" stroke-width="0.95"/>
<circle cx="667.94" cy="347.69" r="2.5" fill="none" stroke="#1a1718" stroke-width="0.95"/>
<circle cx="667.12" cy="351.71" r="2.5" fill="none" stroke="#1a1718" stroke-width="0.95"/>
<circle cx="669.13" cy="337.92" r="2.5" fill="#5b7b6d" stroke="#1a1718" stroke-width="0.95"/>
<circle cx="669.95" cy="342.48" r="2.5" fill="#5b7b6d" stroke="#1a1718" stroke-width="0.95"/>
<circle cx="669.90" cy="345.76" r="2.5" fill="#5b7b6d" stroke="#1a1718" stroke-width="0.95"/>
<circle cx="671.83" cy="349.60" r="2.5" fill="#5b7b6d" stroke="#1a1718" stroke-width="0.95"/>
<line x1="668.10" y1="351.80" x2="668.10" y2="363.80" stroke="#231f20" stroke-width="1.15" />
<line x1="668.10" y1="373.30" x2="668.10" y2="375.10" stroke="#231f20" stroke-width="1.15" />
<line x1="664.00" y1="351.80" x2="672.20" y2="351.80" stroke="#231f20" stroke-width="1.15" />
<line x1="664.00" y1="375.10" x2="672.20" y2="375.10" stroke="#231f20" stroke-width="1.15" />
<rect x="660.10" y="363.80" width="16.00" height="9.50" fill="#5b7b6d" stroke="#231f20" stroke-width="1.2"/>
<line x1="660.10" y1="370.50" x2="676.10" y2="370.50" stroke="#0a0a0a" stroke-width="1.7" />
<text x="667.80" y="276.50" font-size="8.8" text-anchor="middle" font-weight="normal" fill="#231f20" >0.240</text>
<text transform="translate(495.2,329.75) rotate(-90) scale(1.1066,1)" font-size="10.3" text-anchor="middle" fill="#231f20"><tspan dy="0.00">CH</tspan><tspan font-size="6.80" dy="1.50">4</tspan><tspan dy="-1.50">/N</tspan><tspan font-size="6.80" dy="1.50">2</tspan><tspan dy="-1.50"> Selectivity</tspan></text>
<line x1="40.20" y1="415.10" x2="40.20" y2="526.50" stroke="#231f20" stroke-width="1.25" />
<line x1="40.20" y1="526.50" x2="201.60" y2="526.50" stroke="#231f20" stroke-width="1.25" />
<text x="31.20" y="521.90" font-size="10.2" text-anchor="end" font-weight="normal" fill="#231f20" >0</text>
<text x="31.20" y="494.07" font-size="10.2" text-anchor="end" font-weight="normal" fill="#231f20" >40</text>
<text x="31.20" y="466.24" font-size="10.2" text-anchor="end" font-weight="normal" fill="#231f20" >80</text>
<text x="31.20" y="438.40" font-size="10.2" text-anchor="end" font-weight="normal" fill="#231f20" >120</text>
<circle cx="56.42" cy="431.86" r="2.5" fill="#cbcacb" stroke="#1a1718" stroke-width="0.95"/>
<circle cx="59.24" cy="432.59" r="2.5" fill="#cbcacb" stroke="#1a1718" stroke-width="0.95"/>
<circle cx="55.13" cy="435.08" r="2.5" fill="#cbcacb" stroke="#1a1718" stroke-width="0.95"/>
<circle cx="55.30" cy="436.50" r="2.5" fill="#cbcacb" stroke="#1a1718" stroke-width="0.95"/>
<circle cx="56.12" cy="439.24" r="2.5" fill="#cbcacb" stroke="#1a1718" stroke-width="0.95"/>
<circle cx="56.13" cy="440.49" r="2.5" fill="#cbcacb" stroke="#1a1718" stroke-width="0.95"/>
<circle cx="54.51" cy="441.82" r="2.5" fill="#cbcacb" stroke="#1a1718" stroke-width="0.95"/>
<circle cx="55.42" cy="443.52" r="2.5" fill="#cbcacb" stroke="#1a1718" stroke-width="0.95"/>
<circle cx="52.88" cy="444.95" r="2.5" fill="#cbcacb" stroke="#1a1718" stroke-width="0.95"/>
<circle cx="54.30" cy="446.77" r="2.5" fill="#cbcacb" stroke="#1a1718" stroke-width="0.95"/>
<circle cx="56.30" cy="448.55" r="2.5" fill="#cbcacb" stroke="#1a1718" stroke-width="0.95"/>
<circle cx="57.16" cy="450.10" r="2.5" fill="#cbcacb" stroke="#1a1718" stroke-width="0.95"/>
<circle cx="58.66" cy="451.36" r="2.5" fill="#cbcacb" stroke="#1a1718" stroke-width="0.95"/>
<circle cx="54.93" cy="452.22" r="2.5" fill="#cbcacb" stroke="#1a1718" stroke-width="0.95"/>
<circle cx="53.73" cy="454.20" r="2.5" fill="#cbcacb" stroke="#1a1718" stroke-width="0.95"/>
<circle cx="57.07" cy="455.10" r="2.5" fill="#cbcacb" stroke="#1a1718" stroke-width="0.95"/>
<circle cx="58.36" cy="455.49" r="2.5" fill="#cbcacb" stroke="#1a1718" stroke-width="0.95"/>
<circle cx="56.96" cy="457.67" r="2.5" fill="#cbcacb" stroke="#1a1718" stroke-width="0.95"/>
<circle cx="58.21" cy="458.64" r="2.5" fill="#cbcacb" stroke="#1a1718" stroke-width="0.95"/>
<circle cx="56.26" cy="459.10" r="2.5" fill="#cbcacb" stroke="#1a1718" stroke-width="0.95"/>
<circle cx="58.36" cy="460.64" r="2.5" fill="#cbcacb" stroke="#1a1718" stroke-width="0.95"/>
<circle cx="58.30" cy="462.07" r="2.5" fill="#cbcacb" stroke="#1a1718" stroke-width="0.95"/>
<circle cx="58.75" cy="462.92" r="2.5" fill="#cbcacb" stroke="#1a1718" stroke-width="0.95"/>
<circle cx="57.40" cy="464.10" r="2.5" fill="#cbcacb" stroke="#1a1718" stroke-width="0.95"/>
<circle cx="52.94" cy="464.68" r="2.5" fill="#cbcacb" stroke="#1a1718" stroke-width="0.95"/>
<circle cx="55.16" cy="465.63" r="2.5" fill="#cbcacb" stroke="#1a1718" stroke-width="0.95"/>
<circle cx="58.37" cy="466.65" r="2.5" fill="#cbcacb" stroke="#1a1718" stroke-width="0.95"/>
<circle cx="56.96" cy="468.14" r="2.5" fill="#cbcacb" stroke="#1a1718" stroke-width="0.95"/>
<circle cx="57.32" cy="469.22" r="2.5" fill="#cbcacb" stroke="#1a1718" stroke-width="0.95"/>
<circle cx="52.75" cy="470.09" r="2.5" fill="#cbcacb" stroke="#1a1718" stroke-width="0.95"/>
<circle cx="57.78" cy="471.39" r="2.5" fill="#cbcacb" stroke="#1a1718" stroke-width="0.95"/>
<circle cx="56.34" cy="472.08" r="2.5" fill="#cbcacb" stroke="#1a1718" stroke-width="0.95"/>
<circle cx="53.17" cy="473.21" r="2.5" fill="#cbcacb" stroke="#1a1718" stroke-width="0.95"/>
<circle cx="54.43" cy="474.25" r="2.5" fill="#cbcacb" stroke="#1a1718" stroke-width="0.95"/>
<circle cx="53.17" cy="458.12" r="2.5" fill="none" stroke="#1a1718" stroke-width="0.95"/>
<circle cx="52.89" cy="460.85" r="2.5" fill="none" stroke="#1a1718" stroke-width="0.95"/>
<circle cx="56.58" cy="462.52" r="2.5" fill="none" stroke="#1a1718" stroke-width="0.95"/>
<circle cx="53.74" cy="463.77" r="2.5" fill="none" stroke="#1a1718" stroke-width="0.95"/>
<circle cx="55.18" cy="465.39" r="2.5" fill="none" stroke="#1a1718" stroke-width="0.95"/>
<circle cx="54.86" cy="467.52" r="2.5" fill="none" stroke="#1a1718" stroke-width="0.95"/>
<circle cx="52.27" cy="468.96" r="2.5" fill="none" stroke="#1a1718" stroke-width="0.95"/>
<circle cx="53.12" cy="469.79" r="2.5" fill="none" stroke="#1a1718" stroke-width="0.95"/>
<circle cx="53.36" cy="472.43" r="2.5" fill="none" stroke="#1a1718" stroke-width="0.95"/>
<circle cx="51.96" cy="473.79" r="2.5" fill="none" stroke="#1a1718" stroke-width="0.95"/>
<circle cx="57.23" cy="460.49" r="2.5" fill="#cbcacb" stroke="#1a1718" stroke-width="0.95"/>
<circle cx="58.82" cy="466.97" r="2.5" fill="#cbcacb" stroke="#1a1718" stroke-width="0.95"/>
<circle cx="57.32" cy="470.15" r="2.5" fill="#cbcacb" stroke="#1a1718" stroke-width="0.95"/>
<circle cx="57.97" cy="472.63" r="2.5" fill="#cbcacb" stroke="#1a1718" stroke-width="0.95"/>
<line x1="56.10" y1="474.00" x2="56.10" y2="497.00" stroke="#231f20" stroke-width="1.15" />
<line x1="56.10" y1="513.40" x2="56.10" y2="517.60" stroke="#231f20" stroke-width="1.15" />
<line x1="52.00" y1="474.00" x2="60.20" y2="474.00" stroke="#231f20" stroke-width="1.15" />
<line x1="52.00" y1="517.60" x2="60.20" y2="517.60" stroke="#231f20" stroke-width="1.15" />
<rect x="48.10" y="497.00" width="16.00" height="16.40" fill="#cbcacb" stroke="#231f20" stroke-width="1.2"/>
<line x1="48.10" y1="508.20" x2="64.10" y2="508.20" stroke="#0a0a0a" stroke-width="1.7" />
<text x="55.80" y="418.80" font-size="8.8" text-anchor="middle" font-weight="normal" fill="#231f20" >25.7</text>
<circle cx="86.00" cy="437.50" r="2.5" fill="#c9c3d7" stroke="#1a1718" stroke-width="0.95"/>
<circle cx="87.40" cy="441.70" r="2.5" fill="#c9c3d7" stroke="#1a1718" stroke-width="0.95"/>
<circle cx="85.72" cy="459.83" r="2.5" fill="#c9c3d7" stroke="#1a1718" stroke-width="0.95"/>
<circle cx="86.27" cy="463.56" r="2.5" fill="#c9c3d7" stroke="#1a1718" stroke-width="0.95"/>
<circle cx="91.24" cy="465.60" r="2.5" fill="#c9c3d7" stroke="#1a1718" stroke-width="0.95"/>
<circle cx="88.02" cy="465.67" r="2.5" fill="#c9c3d7" stroke="#1a1718" stroke-width="0.95"/>
<circle cx="91.46" cy="468.48" r="2.5" fill="#c9c3d7" stroke="#1a1718" stroke-width="0.95"/>
<circle cx="86.74" cy="469.36" r="2.5" fill="#c9c3d7" stroke="#1a1718" stroke-width="0.95"/>
<circle cx="91.31" cy="470.37" r="2.5" fill="#c9c3d7" stroke="#1a1718" stroke-width="0.95"/>
<circle cx="88.85" cy="471.62" r="2.5" fill="#c9c3d7" stroke="#1a1718" stroke-width="0.95"/>
<circle cx="88.46" cy="472.73" r="2.5" fill="#c9c3d7" stroke="#1a1718" stroke-width="0.95"/>
<circle cx="85.82" cy="474.74" r="2.5" fill="#c9c3d7" stroke="#1a1718" stroke-width="0.95"/>
<circle cx="88.36" cy="475.65" r="2.5" fill="#c9c3d7" stroke="#1a1718" stroke-width="0.95"/>
<circle cx="89.67" cy="476.74" r="2.5" fill="#c9c3d7" stroke="#1a1718" stroke-width="0.95"/>
<circle cx="90.98" cy="477.08" r="2.5" fill="#c9c3d7" stroke="#1a1718" stroke-width="0.95"/>
<circle cx="85.09" cy="478.29" r="2.5" fill="#c9c3d7" stroke="#1a1718" stroke-width="0.95"/>
<circle cx="88.24" cy="478.78" r="2.5" fill="#c9c3d7" stroke="#1a1718" stroke-width="0.95"/>
<circle cx="86.96" cy="480.10" r="2.5" fill="#c9c3d7" stroke="#1a1718" stroke-width="0.95"/>
<circle cx="87.25" cy="480.71" r="2.5" fill="#c9c3d7" stroke="#1a1718" stroke-width="0.95"/>
<circle cx="90.60" cy="481.73" r="2.5" fill="#c9c3d7" stroke="#1a1718" stroke-width="0.95"/>
<circle cx="89.99" cy="482.32" r="2.5" fill="#c9c3d7" stroke="#1a1718" stroke-width="0.95"/>
<circle cx="85.74" cy="483.84" r="2.5" fill="#c9c3d7" stroke="#1a1718" stroke-width="0.95"/>
<circle cx="89.74" cy="484.71" r="2.5" fill="#c9c3d7" stroke="#1a1718" stroke-width="0.95"/>
<circle cx="86.88" cy="485.48" r="2.5" fill="#c9c3d7" stroke="#1a1718" stroke-width="0.95"/>
<circle cx="87.58" cy="485.84" r="2.5" fill="#c9c3d7" stroke="#1a1718" stroke-width="0.95"/>
<circle cx="88.90" cy="487.08" r="2.5" fill="#c9c3d7" stroke="#1a1718" stroke-width="0.95"/>
<circle cx="87.81" cy="487.36" r="2.5" fill="#c9c3d7" stroke="#1a1718" stroke-width="0.95"/>
<circle cx="85.25" cy="488.03" r="2.5" fill="#c9c3d7" stroke="#1a1718" stroke-width="0.95"/>
<circle cx="90.56" cy="488.64" r="2.5" fill="#c9c3d7" stroke="#1a1718" stroke-width="0.95"/>
<circle cx="91.24" cy="489.49" r="2.5" fill="#c9c3d7" stroke="#1a1718" stroke-width="0.95"/>
<circle cx="85.38" cy="474.40" r="2.5" fill="none" stroke="#1a1718" stroke-width="0.95"/>
<circle cx="85.01" cy="476.42" r="2.5" fill="none" stroke="#1a1718" stroke-width="0.95"/>
<circle cx="88.69" cy="477.80" r="2.5" fill="none" stroke="#1a1718" stroke-width="0.95"/>
<circle cx="88.00" cy="480.21" r="2.5" fill="none" stroke="#1a1718" stroke-width="0.95"/>
<circle cx="88.48" cy="481.41" r="2.5" fill="none" stroke="#1a1718" stroke-width="0.95"/>
<circle cx="86.74" cy="483.51" r="2.5" fill="none" stroke="#1a1718" stroke-width="0.95"/>
<circle cx="84.34" cy="484.75" r="2.5" fill="none" stroke="#1a1718" stroke-width="0.95"/>
<circle cx="86.26" cy="486.37" r="2.5" fill="none" stroke="#1a1718" stroke-width="0.95"/>
<circle cx="87.19" cy="488.00" r="2.5" fill="none" stroke="#1a1718" stroke-width="0.95"/>
<circle cx="84.34" cy="488.86" r="2.5" fill="none" stroke="#1a1718" stroke-width="0.95"/>
<circle cx="88.90" cy="480.35" r="2.5" fill="#c9c3d7" stroke="#1a1718" stroke-width="0.95"/>
<circle cx="89.71" cy="482.29" r="2.5" fill="#c9c3d7" stroke="#1a1718" stroke-width="0.95"/>
<circle cx="91.20" cy="484.99" r="2.5" fill="#c9c3d7" stroke="#1a1718" stroke-width="0.95"/>
<circle cx="89.40" cy="489.93" r="2.5" fill="#c9c3d7" stroke="#1a1718" stroke-width="0.95"/>
<line x1="88.30" y1="489.50" x2="88.30" y2="503.70" stroke="#231f20" stroke-width="1.15" />
<line x1="88.30" y1="514.20" x2="88.30" y2="517.60" stroke="#231f20" stroke-width="1.15" />
<line x1="84.20" y1="489.50" x2="92.40" y2="489.50" stroke="#231f20" stroke-width="1.15" />
<line x1="84.20" y1="517.60" x2="92.40" y2="517.60" stroke="#231f20" stroke-width="1.15" />
<rect x="80.30" y="503.70" width="16.00" height="10.50" fill="#c9c3d7" stroke="#231f20" stroke-width="1.2"/>
<line x1="80.30" y1="510.50" x2="96.30" y2="510.50" stroke="#0a0a0a" stroke-width="1.7" />
<text x="88.00" y="418.80" font-size="8.8" text-anchor="middle" font-weight="normal" fill="#231f20" >14.4</text>
<circle cx="123.60" cy="434.00" r="2.5" fill="#8296ab" stroke="#1a1718" stroke-width="0.95"/>
<circle cx="118.30" cy="439.90" r="2.5" fill="#8296ab" stroke="#1a1718" stroke-width="0.95"/>
<circle cx="121.80" cy="443.40" r="2.5" fill="#8296ab" stroke="#1a1718" stroke-width="0.95"/>
<circle cx="118.30" cy="447.60" r="2.5" fill="#8296ab" stroke="#1a1718" stroke-width="0.95"/>
<circle cx="121.80" cy="451.50" r="2.5" fill="#8296ab" stroke="#1a1718" stroke-width="0.95"/>
<circle cx="119.16" cy="460.53" r="2.5" fill="#8296ab" stroke="#1a1718" stroke-width="0.95"/>
<circle cx="119.79" cy="462.93" r="2.5" fill="#8296ab" stroke="#1a1718" stroke-width="0.95"/>
<circle cx="118.22" cy="464.23" r="2.5" fill="#8296ab" stroke="#1a1718" stroke-width="0.95"/>
<circle cx="123.24" cy="466.15" r="2.5" fill="#8296ab" stroke="#1a1718" stroke-width="0.95"/>
<circle cx="118.61" cy="468.21" r="2.5" fill="#8296ab" stroke="#1a1718" stroke-width="0.95"/>
<circle cx="123.85" cy="470.20" r="2.5" fill="#8296ab" stroke="#1a1718" stroke-width="0.95"/>
<circle cx="118.07" cy="470.92" r="2.5" fill="#8296ab" stroke="#1a1718" stroke-width="0.95"/>
<circle cx="117.74" cy="471.86" r="2.5" fill="#8296ab" stroke="#1a1718" stroke-width="0.95"/>
<circle cx="117.74" cy="473.24" r="2.5" fill="#8296ab" stroke="#1a1718" stroke-width="0.95"/>
<circle cx="118.87" cy="474.27" r="2.5" fill="#8296ab" stroke="#1a1718" stroke-width="0.95"/>
<circle cx="123.11" cy="475.72" r="2.5" fill="#8296ab" stroke="#1a1718" stroke-width="0.95"/>
<circle cx="119.91" cy="476.94" r="2.5" fill="#8296ab" stroke="#1a1718" stroke-width="0.95"/>
<circle cx="120.66" cy="477.61" r="2.5" fill="#8296ab" stroke="#1a1718" stroke-width="0.95"/>
<circle cx="119.41" cy="478.56" r="2.5" fill="#8296ab" stroke="#1a1718" stroke-width="0.95"/>
<circle cx="119.00" cy="479.21" r="2.5" fill="#8296ab" stroke="#1a1718" stroke-width="0.95"/>
<circle cx="117.97" cy="480.97" r="2.5" fill="#8296ab" stroke="#1a1718" stroke-width="0.95"/>
<circle cx="121.37" cy="481.45" r="2.5" fill="#8296ab" stroke="#1a1718" stroke-width="0.95"/>
<circle cx="118.58" cy="482.64" r="2.5" fill="#8296ab" stroke="#1a1718" stroke-width="0.95"/>
<circle cx="118.80" cy="482.99" r="2.5" fill="#8296ab" stroke="#1a1718" stroke-width="0.95"/>
<circle cx="120.13" cy="483.94" r="2.5" fill="#8296ab" stroke="#1a1718" stroke-width="0.95"/>
<circle cx="122.85" cy="485.22" r="2.5" fill="#8296ab" stroke="#1a1718" stroke-width="0.95"/>
<circle cx="117.27" cy="485.96" r="2.5" fill="#8296ab" stroke="#1a1718" stroke-width="0.95"/>
<circle cx="121.91" cy="486.08" r="2.5" fill="#8296ab" stroke="#1a1718" stroke-width="0.95"/>
<circle cx="120.32" cy="487.53" r="2.5" fill="#8296ab" stroke="#1a1718" stroke-width="0.95"/>
<circle cx="117.13" cy="488.06" r="2.5" fill="#8296ab" stroke="#1a1718" stroke-width="0.95"/>
<circle cx="123.38" cy="488.67" r="2.5" fill="#8296ab" stroke="#1a1718" stroke-width="0.95"/>
<circle cx="122.90" cy="489.73" r="2.5" fill="#8296ab" stroke="#1a1718" stroke-width="0.95"/>
<circle cx="118.80" cy="490.56" r="2.5" fill="#8296ab" stroke="#1a1718" stroke-width="0.95"/>
<circle cx="118.17" cy="490.66" r="2.5" fill="#8296ab" stroke="#1a1718" stroke-width="0.95"/>
<circle cx="121.73" cy="491.66" r="2.5" fill="#8296ab" stroke="#1a1718" stroke-width="0.95"/>
<circle cx="119.76" cy="471.73" r="2.5" fill="none" stroke="#1a1718" stroke-width="0.95"/>
<circle cx="119.97" cy="473.02" r="2.5" fill="none" stroke="#1a1718" stroke-width="0.95"/>
<circle cx="118.95" cy="474.51" r="2.5" fill="none" stroke="#1a1718" stroke-width="0.95"/>
<circle cx="120.06" cy="475.57" r="2.5" fill="none" stroke="#1a1718" stroke-width="0.95"/>
<circle cx="120.72" cy="477.76" r="2.5" fill="none" stroke="#1a1718" stroke-width="0.95"/>
<circle cx="117.76" cy="480.35" r="2.5" fill="none" stroke="#1a1718" stroke-width="0.95"/>
<circle cx="117.51" cy="481.23" r="2.5" fill="none" stroke="#1a1718" stroke-width="0.95"/>
<circle cx="119.65" cy="484.00" r="2.5" fill="none" stroke="#1a1718" stroke-width="0.95"/>
<circle cx="116.64" cy="484.87" r="2.5" fill="none" stroke="#1a1718" stroke-width="0.95"/>
<circle cx="119.10" cy="487.46" r="2.5" fill="none" stroke="#1a1718" stroke-width="0.95"/>
<circle cx="117.37" cy="489.04" r="2.5" fill="none" stroke="#1a1718" stroke-width="0.95"/>
<circle cx="116.35" cy="491.27" r="2.5" fill="none" stroke="#1a1718" stroke-width="0.95"/>
<circle cx="122.35" cy="474.11" r="2.5" fill="#8296ab" stroke="#1a1718" stroke-width="0.95"/>
<circle cx="123.04" cy="481.45" r="2.5" fill="#8296ab" stroke="#1a1718" stroke-width="0.95"/>
<circle cx="122.41" cy="484.88" r="2.5" fill="#8296ab" stroke="#1a1718" stroke-width="0.95"/>
<circle cx="121.55" cy="486.12" r="2.5" fill="#8296ab" stroke="#1a1718" stroke-width="0.95"/>
<circle cx="123.27" cy="491.87" r="2.5" fill="#8296ab" stroke="#1a1718" stroke-width="0.95"/>
<line x1="120.50" y1="491.20" x2="120.50" y2="505.00" stroke="#231f20" stroke-width="1.15" />
<line x1="120.50" y1="514.80" x2="120.50" y2="517.60" stroke="#231f20" stroke-width="1.15" />
<line x1="116.40" y1="491.20" x2="124.60" y2="491.20" stroke="#231f20" stroke-width="1.15" />
<line x1="116.40" y1="517.60" x2="124.60" y2="517.60" stroke="#231f20" stroke-width="1.15" />
<rect x="112.50" y="505.00" width="16.00" height="9.80" fill="#8296ab" stroke="#231f20" stroke-width="1.2"/>
<line x1="112.50" y1="511.20" x2="128.50" y2="511.20" stroke="#0a0a0a" stroke-width="1.7" />
<text x="120.20" y="418.80" font-size="8.8" text-anchor="middle" font-weight="normal" fill="#231f20" >13.6</text>
<circle cx="154.00" cy="449.20" r="2.5" fill="#d3a19a" stroke="#1a1718" stroke-width="0.95"/>
<circle cx="154.00" cy="452.00" r="2.5" fill="#d3a19a" stroke="#1a1718" stroke-width="0.95"/>
<circle cx="149.47" cy="465.09" r="2.5" fill="#d3a19a" stroke="#1a1718" stroke-width="0.95"/>
<circle cx="153.88" cy="468.41" r="2.5" fill="#d3a19a" stroke="#1a1718" stroke-width="0.95"/>
<circle cx="151.06" cy="470.22" r="2.5" fill="#d3a19a" stroke="#1a1718" stroke-width="0.95"/>
<circle cx="155.57" cy="472.26" r="2.5" fill="#d3a19a" stroke="#1a1718" stroke-width="0.95"/>
<circle cx="149.56" cy="473.09" r="2.5" fill="#d3a19a" stroke="#1a1718" stroke-width="0.95"/>
<circle cx="152.16" cy="474.60" r="2.5" fill="#d3a19a" stroke="#1a1718" stroke-width="0.95"/>
<circle cx="150.66" cy="476.28" r="2.5" fill="#d3a19a" stroke="#1a1718" stroke-width="0.95"/>
<circle cx="154.31" cy="477.56" r="2.5" fill="#d3a19a" stroke="#1a1718" stroke-width="0.95"/>
<circle cx="150.71" cy="478.34" r="2.5" fill="#d3a19a" stroke="#1a1718" stroke-width="0.95"/>
<circle cx="151.43" cy="479.88" r="2.5" fill="#d3a19a" stroke="#1a1718" stroke-width="0.95"/>
<circle cx="150.88" cy="480.73" r="2.5" fill="#d3a19a" stroke="#1a1718" stroke-width="0.95"/>
<circle cx="154.46" cy="481.12" r="2.5" fill="#d3a19a" stroke="#1a1718" stroke-width="0.95"/>
<circle cx="155.75" cy="482.14" r="2.5" fill="#d3a19a" stroke="#1a1718" stroke-width="0.95"/>
<circle cx="150.59" cy="483.24" r="2.5" fill="#d3a19a" stroke="#1a1718" stroke-width="0.95"/>
<circle cx="152.14" cy="483.89" r="2.5" fill="#d3a19a" stroke="#1a1718" stroke-width="0.95"/>
<circle cx="155.73" cy="485.14" r="2.5" fill="#d3a19a" stroke="#1a1718" stroke-width="0.95"/>
<circle cx="151.98" cy="485.54" r="2.5" fill="#d3a19a" stroke="#1a1718" stroke-width="0.95"/>
<circle cx="155.90" cy="486.42" r="2.5" fill="#d3a19a" stroke="#1a1718" stroke-width="0.95"/>
<circle cx="149.67" cy="487.17" r="2.5" fill="#d3a19a" stroke="#1a1718" stroke-width="0.95"/>
<circle cx="151.98" cy="487.90" r="2.5" fill="#d3a19a" stroke="#1a1718" stroke-width="0.95"/>
<circle cx="155.29" cy="489.31" r="2.5" fill="#d3a19a" stroke="#1a1718" stroke-width="0.95"/>
<circle cx="156.06" cy="489.94" r="2.5" fill="#d3a19a" stroke="#1a1718" stroke-width="0.95"/>
<circle cx="151.55" cy="490.82" r="2.5" fill="#d3a19a" stroke="#1a1718" stroke-width="0.95"/>
<circle cx="155.64" cy="491.01" r="2.5" fill="#d3a19a" stroke="#1a1718" stroke-width="0.95"/>
<circle cx="149.54" cy="492.12" r="2.5" fill="#d3a19a" stroke="#1a1718" stroke-width="0.95"/>
<circle cx="151.88" cy="492.77" r="2.5" fill="#d3a19a" stroke="#1a1718" stroke-width="0.95"/>
<circle cx="150.09" cy="474.71" r="2.5" fill="none" stroke="#1a1718" stroke-width="0.95"/>
<circle cx="148.51" cy="476.22" r="2.5" fill="none" stroke="#1a1718" stroke-width="0.95"/>
<circle cx="150.19" cy="478.33" r="2.5" fill="none" stroke="#1a1718" stroke-width="0.95"/>
<circle cx="149.09" cy="481.52" r="2.5" fill="none" stroke="#1a1718" stroke-width="0.95"/>
<circle cx="149.50" cy="483.43" r="2.5" fill="none" stroke="#1a1718" stroke-width="0.95"/>
<circle cx="152.44" cy="484.18" r="2.5" fill="none" stroke="#1a1718" stroke-width="0.95"/>
<circle cx="150.58" cy="486.96" r="2.5" fill="none" stroke="#1a1718" stroke-width="0.95"/>
<circle cx="150.77" cy="487.39" r="2.5" fill="none" stroke="#1a1718" stroke-width="0.95"/>
<circle cx="152.91" cy="489.91" r="2.5" fill="none" stroke="#1a1718" stroke-width="0.95"/>
<circle cx="150.25" cy="491.47" r="2.5" fill="none" stroke="#1a1718" stroke-width="0.95"/>
<circle cx="152.94" cy="481.14" r="2.5" fill="#d3a19a" stroke="#1a1718" stroke-width="0.95"/>
<circle cx="155.87" cy="483.39" r="2.5" fill="#d3a19a" stroke="#1a1718" stroke-width="0.95"/>
<circle cx="152.98" cy="488.66" r="2.5" fill="#d3a19a" stroke="#1a1718" stroke-width="0.95"/>
<circle cx="153.06" cy="489.63" r="2.5" fill="#d3a19a" stroke="#1a1718" stroke-width="0.95"/>
<line x1="152.70" y1="491.90" x2="152.70" y2="505.40" stroke="#231f20" stroke-width="1.15" />
<line x1="152.70" y1="514.80" x2="152.70" y2="517.60" stroke="#231f20" stroke-width="1.15" />
<line x1="148.60" y1="491.90" x2="156.80" y2="491.90" stroke="#231f20" stroke-width="1.15" />
<line x1="148.60" y1="517.60" x2="156.80" y2="517.60" stroke="#231f20" stroke-width="1.15" />
<rect x="144.70" y="505.40" width="16.00" height="9.40" fill="#d3a19a" stroke="#231f20" stroke-width="1.2"/>
<line x1="144.70" y1="511.20" x2="160.70" y2="511.20" stroke="#0a0a0a" stroke-width="1.7" />
<text x="152.40" y="418.80" font-size="8.8" text-anchor="middle" font-weight="normal" fill="#231f20" >12.6</text>
<circle cx="186.00" cy="439.40" r="2.5" fill="#5b7b6d" stroke="#1a1718" stroke-width="0.95"/>
<circle cx="182.00" cy="453.90" r="2.5" fill="#5b7b6d" stroke="#1a1718" stroke-width="0.95"/>
<circle cx="183.70" cy="460.90" r="2.5" fill="#5b7b6d" stroke="#1a1718" stroke-width="0.95"/>
<circle cx="186.00" cy="463.20" r="2.5" fill="#5b7b6d" stroke="#1a1718" stroke-width="0.95"/>
<circle cx="183.26" cy="471.22" r="2.5" fill="#5b7b6d" stroke="#1a1718" stroke-width="0.95"/>
<circle cx="187.59" cy="473.00" r="2.5" fill="#5b7b6d" stroke="#1a1718" stroke-width="0.95"/>
<circle cx="183.36" cy="474.05" r="2.5" fill="#5b7b6d" stroke="#1a1718" stroke-width="0.95"/>
<circle cx="185.69" cy="476.41" r="2.5" fill="#5b7b6d" stroke="#1a1718" stroke-width="0.95"/>
<circle cx="186.36" cy="476.80" r="2.5" fill="#5b7b6d" stroke="#1a1718" stroke-width="0.95"/>
<circle cx="183.39" cy="478.07" r="2.5" fill="#5b7b6d" stroke="#1a1718" stroke-width="0.95"/>
<circle cx="186.63" cy="478.83" r="2.5" fill="#5b7b6d" stroke="#1a1718" stroke-width="0.95"/>
<circle cx="185.80" cy="480.78" r="2.5" fill="#5b7b6d" stroke="#1a1718" stroke-width="0.95"/>
<circle cx="181.69" cy="481.73" r="2.5" fill="#5b7b6d" stroke="#1a1718" stroke-width="0.95"/>
<circle cx="184.73" cy="482.00" r="2.5" fill="#5b7b6d" stroke="#1a1718" stroke-width="0.95"/>
<circle cx="187.96" cy="483.48" r="2.5" fill="#5b7b6d" stroke="#1a1718" stroke-width="0.95"/>
<circle cx="183.22" cy="483.83" r="2.5" fill="#5b7b6d" stroke="#1a1718" stroke-width="0.95"/>
<circle cx="184.86" cy="484.66" r="2.5" fill="#5b7b6d" stroke="#1a1718" stroke-width="0.95"/>
<circle cx="182.76" cy="485.80" r="2.5" fill="#5b7b6d" stroke="#1a1718" stroke-width="0.95"/>
<circle cx="186.51" cy="486.44" r="2.5" fill="#5b7b6d" stroke="#1a1718" stroke-width="0.95"/>
<circle cx="186.74" cy="487.17" r="2.5" fill="#5b7b6d" stroke="#1a1718" stroke-width="0.95"/>
<circle cx="183.74" cy="487.71" r="2.5" fill="#5b7b6d" stroke="#1a1718" stroke-width="0.95"/>
<circle cx="183.97" cy="488.19" r="2.5" fill="#5b7b6d" stroke="#1a1718" stroke-width="0.95"/>
<circle cx="182.06" cy="489.16" r="2.5" fill="#5b7b6d" stroke="#1a1718" stroke-width="0.95"/>
<circle cx="186.61" cy="489.43" r="2.5" fill="#5b7b6d" stroke="#1a1718" stroke-width="0.95"/>
<circle cx="181.96" cy="490.09" r="2.5" fill="#5b7b6d" stroke="#1a1718" stroke-width="0.95"/>
<circle cx="185.26" cy="490.58" r="2.5" fill="#5b7b6d" stroke="#1a1718" stroke-width="0.95"/>
<circle cx="188.14" cy="491.37" r="2.5" fill="#5b7b6d" stroke="#1a1718" stroke-width="0.95"/>
<circle cx="188.19" cy="492.29" r="2.5" fill="#5b7b6d" stroke="#1a1718" stroke-width="0.95"/>
<circle cx="182.09" cy="492.51" r="2.5" fill="#5b7b6d" stroke="#1a1718" stroke-width="0.95"/>
<circle cx="184.89" cy="492.99" r="2.5" fill="#5b7b6d" stroke="#1a1718" stroke-width="0.95"/>
<circle cx="182.85" cy="475.12" r="2.5" fill="none" stroke="#1a1718" stroke-width="0.95"/>
<circle cx="182.70" cy="475.95" r="2.5" fill="none" stroke="#1a1718" stroke-width="0.95"/>
<circle cx="183.94" cy="478.15" r="2.5" fill="none" stroke="#1a1718" stroke-width="0.95"/>
<circle cx="184.77" cy="479.93" r="2.5" fill="none" stroke="#1a1718" stroke-width="0.95"/>
<circle cx="181.28" cy="481.39" r="2.5" fill="none" stroke="#1a1718" stroke-width="0.95"/>
<circle cx="182.11" cy="483.25" r="2.5" fill="none" stroke="#1a1718" stroke-width="0.95"/>
<circle cx="182.49" cy="484.40" r="2.5" fill="none" stroke="#1a1718" stroke-width="0.95"/>
<circle cx="181.66" cy="486.25" r="2.5" fill="none" stroke="#1a1718" stroke-width="0.95"/>
<circle cx="181.88" cy="487.06" r="2.5" fill="none" stroke="#1a1718" stroke-width="0.95"/>
<circle cx="184.94" cy="488.49" r="2.5" fill="none" stroke="#1a1718" stroke-width="0.95"/>
<circle cx="182.27" cy="490.75" r="2.5" fill="none" stroke="#1a1718" stroke-width="0.95"/>
<circle cx="185.46" cy="492.04" r="2.5" fill="none" stroke="#1a1718" stroke-width="0.95"/>
<circle cx="185.89" cy="479.26" r="2.5" fill="#5b7b6d" stroke="#1a1718" stroke-width="0.95"/>
<circle cx="187.47" cy="485.01" r="2.5" fill="#5b7b6d" stroke="#1a1718" stroke-width="0.95"/>
<circle cx="185.41" cy="489.47" r="2.5" fill="#5b7b6d" stroke="#1a1718" stroke-width="0.95"/>
<circle cx="188.10" cy="491.19" r="2.5" fill="#5b7b6d" stroke="#1a1718" stroke-width="0.95"/>
<line x1="184.90" y1="492.60" x2="184.90" y2="505.00" stroke="#231f20" stroke-width="1.15" />
<line x1="184.90" y1="514.80" x2="184.90" y2="517.60" stroke="#231f20" stroke-width="1.15" />
<line x1="180.80" y1="492.60" x2="189.00" y2="492.60" stroke="#231f20" stroke-width="1.15" />
<line x1="180.80" y1="517.60" x2="189.00" y2="517.60" stroke="#231f20" stroke-width="1.15" />
<rect x="176.90" y="505.00" width="16.00" height="9.80" fill="#5b7b6d" stroke="#231f20" stroke-width="1.2"/>
<line x1="176.90" y1="511.20" x2="192.90" y2="511.20" stroke="#0a0a0a" stroke-width="1.7" />
<text x="184.60" y="418.80" font-size="8.8" text-anchor="middle" font-weight="normal" fill="#231f20" >13.2</text>
<text transform="translate(9.0,471.6) rotate(-90) scale(1.1179,1)" font-size="10.3" text-anchor="middle" fill="#231f20"><tspan dy="0.00">N</tspan><tspan font-size="6.80" dy="1.50">2</tspan><tspan dy="-1.50"> Uptake</tspan></text>
<text x="17.0" y="406.6" font-size="9.5" fill="#231f20" letter-spacing="1.05">mol kg<tspan font-size="7.2" dy="-3.6">−</tspan><tspan font-size="7.2">1</tspan></text>
<line x1="281.80" y1="415.10" x2="281.80" y2="526.50" stroke="#231f20" stroke-width="1.25" />
<line x1="281.80" y1="526.50" x2="443.20" y2="526.50" stroke="#231f20" stroke-width="1.25" />
<text x="272.80" y="521.90" font-size="10.2" text-anchor="end" font-weight="normal" fill="#231f20" >0</text>
<text x="272.80" y="491.43" font-size="10.2" text-anchor="end" font-weight="normal" fill="#231f20" >15</text>
<text x="272.80" y="460.97" font-size="10.2" text-anchor="end" font-weight="normal" fill="#231f20" >30</text>
<text x="272.80" y="430.50" font-size="10.2" text-anchor="end" font-weight="normal" fill="#231f20" >45</text>
<circle cx="300.81" cy="426.23" r="2.5" fill="#cbcacb" stroke="#1a1718" stroke-width="0.95"/>
<circle cx="296.15" cy="426.51" r="2.5" fill="#cbcacb" stroke="#1a1718" stroke-width="0.95"/>
<circle cx="295.37" cy="427.90" r="2.5" fill="#cbcacb" stroke="#1a1718" stroke-width="0.95"/>
<circle cx="298.32" cy="429.99" r="2.5" fill="#cbcacb" stroke="#1a1718" stroke-width="0.95"/>
<circle cx="296.74" cy="430.98" r="2.5" fill="#cbcacb" stroke="#1a1718" stroke-width="0.95"/>
<circle cx="297.32" cy="431.92" r="2.5" fill="#cbcacb" stroke="#1a1718" stroke-width="0.95"/>
<circle cx="299.78" cy="432.31" r="2.5" fill="#cbcacb" stroke="#1a1718" stroke-width="0.95"/>
<circle cx="294.74" cy="433.90" r="2.5" fill="#cbcacb" stroke="#1a1718" stroke-width="0.95"/>
<circle cx="298.60" cy="434.50" r="2.5" fill="#cbcacb" stroke="#1a1718" stroke-width="0.95"/>
<circle cx="296.72" cy="435.06" r="2.5" fill="#cbcacb" stroke="#1a1718" stroke-width="0.95"/>
<circle cx="295.48" cy="435.89" r="2.5" fill="#cbcacb" stroke="#1a1718" stroke-width="0.95"/>
<circle cx="298.45" cy="436.86" r="2.5" fill="#cbcacb" stroke="#1a1718" stroke-width="0.95"/>
<line x1="297.70" y1="436.80" x2="297.70" y2="480.40" stroke="#231f20" stroke-width="1.15" />
<line x1="297.70" y1="509.10" x2="297.70" y2="517.70" stroke="#231f20" stroke-width="1.15" />
<line x1="293.60" y1="436.80" x2="301.80" y2="436.80" stroke="#231f20" stroke-width="1.15" />
<line x1="293.60" y1="517.70" x2="301.80" y2="517.70" stroke="#231f20" stroke-width="1.15" />
<rect x="289.70" y="480.40" width="16.00" height="28.70" fill="#cbcacb" stroke="#231f20" stroke-width="1.2"/>
<line x1="289.70" y1="498.50" x2="305.70" y2="498.50" stroke="#0a0a0a" stroke-width="1.7" />
<text x="297.40" y="418.80" font-size="8.8" text-anchor="middle" font-weight="normal" fill="#231f20" >13.4</text>
<circle cx="330.40" cy="431.70" r="2.5" fill="#c9c3d7" stroke="#1a1718" stroke-width="0.95"/>
<circle cx="331.50" cy="440.60" r="2.5" fill="#c9c3d7" stroke="#1a1718" stroke-width="0.95"/>
<circle cx="328.70" cy="448.00" r="2.5" fill="#c9c3d7" stroke="#1a1718" stroke-width="0.95"/>
<circle cx="330.60" cy="455.00" r="2.5" fill="#c9c3d7" stroke="#1a1718" stroke-width="0.95"/>
<circle cx="327.90" cy="463.71" r="2.5" fill="#c9c3d7" stroke="#1a1718" stroke-width="0.95"/>
<circle cx="328.73" cy="464.44" r="2.5" fill="#c9c3d7" stroke="#1a1718" stroke-width="0.95"/>
<circle cx="327.77" cy="467.31" r="2.5" fill="#c9c3d7" stroke="#1a1718" stroke-width="0.95"/>
<circle cx="327.90" cy="468.29" r="2.5" fill="#c9c3d7" stroke="#1a1718" stroke-width="0.95"/>
<circle cx="330.22" cy="470.46" r="2.5" fill="#c9c3d7" stroke="#1a1718" stroke-width="0.95"/>
<circle cx="327.21" cy="470.84" r="2.5" fill="#c9c3d7" stroke="#1a1718" stroke-width="0.95"/>
<circle cx="330.24" cy="472.65" r="2.5" fill="#c9c3d7" stroke="#1a1718" stroke-width="0.95"/>
<circle cx="327.14" cy="474.28" r="2.5" fill="#c9c3d7" stroke="#1a1718" stroke-width="0.95"/>
<circle cx="331.22" cy="474.95" r="2.5" fill="#c9c3d7" stroke="#1a1718" stroke-width="0.95"/>
<circle cx="328.44" cy="484.99" r="2.5" fill="#c9c3d7" stroke="#1a1718" stroke-width="0.95"/>
<circle cx="332.96" cy="486.99" r="2.5" fill="#c9c3d7" stroke="#1a1718" stroke-width="0.95"/>
<circle cx="330.35" cy="488.62" r="2.5" fill="#c9c3d7" stroke="#1a1718" stroke-width="0.95"/>
<circle cx="329.34" cy="490.03" r="2.5" fill="#c9c3d7" stroke="#1a1718" stroke-width="0.95"/>
<circle cx="333.25" cy="491.78" r="2.5" fill="#c9c3d7" stroke="#1a1718" stroke-width="0.95"/>
<circle cx="327.86" cy="492.31" r="2.5" fill="#c9c3d7" stroke="#1a1718" stroke-width="0.95"/>
<circle cx="327.90" cy="493.66" r="2.5" fill="#c9c3d7" stroke="#1a1718" stroke-width="0.95"/>
<circle cx="332.61" cy="493.93" r="2.5" fill="#c9c3d7" stroke="#1a1718" stroke-width="0.95"/>
<circle cx="332.06" cy="495.20" r="2.5" fill="#c9c3d7" stroke="#1a1718" stroke-width="0.95"/>
<circle cx="332.48" cy="496.04" r="2.5" fill="#c9c3d7" stroke="#1a1718" stroke-width="0.95"/>
<circle cx="327.62" cy="496.90" r="2.5" fill="#c9c3d7" stroke="#1a1718" stroke-width="0.95"/>
<circle cx="330.25" cy="497.34" r="2.5" fill="#c9c3d7" stroke="#1a1718" stroke-width="0.95"/>
<circle cx="332.67" cy="498.57" r="2.5" fill="#c9c3d7" stroke="#1a1718" stroke-width="0.95"/>
<circle cx="330.72" cy="498.90" r="2.5" fill="#c9c3d7" stroke="#1a1718" stroke-width="0.95"/>
<circle cx="329.93" cy="499.82" r="2.5" fill="#c9c3d7" stroke="#1a1718" stroke-width="0.95"/>
<circle cx="328.44" cy="500.35" r="2.5" fill="#c9c3d7" stroke="#1a1718" stroke-width="0.95"/>
<circle cx="332.77" cy="501.28" r="2.5" fill="#c9c3d7" stroke="#1a1718" stroke-width="0.95"/>
<circle cx="329.84" cy="501.67" r="2.5" fill="#c9c3d7" stroke="#1a1718" stroke-width="0.95"/>
<circle cx="333.05" cy="502.76" r="2.5" fill="#c9c3d7" stroke="#1a1718" stroke-width="0.95"/>
<circle cx="327.38" cy="503.01" r="2.5" fill="#c9c3d7" stroke="#1a1718" stroke-width="0.95"/>
<circle cx="333.11" cy="504.08" r="2.5" fill="#c9c3d7" stroke="#1a1718" stroke-width="0.95"/>
<circle cx="326.89" cy="504.40" r="2.5" fill="#c9c3d7" stroke="#1a1718" stroke-width="0.95"/>
<circle cx="329.14" cy="505.25" r="2.5" fill="#c9c3d7" stroke="#1a1718" stroke-width="0.95"/>
<circle cx="330.71" cy="505.82" r="2.5" fill="#c9c3d7" stroke="#1a1718" stroke-width="0.95"/>
<circle cx="327.61" cy="506.34" r="2.5" fill="#c9c3d7" stroke="#1a1718" stroke-width="0.95"/>
<circle cx="328.02" cy="506.88" r="2.5" fill="#c9c3d7" stroke="#1a1718" stroke-width="0.95"/>
<circle cx="329.66" cy="488.48" r="2.5" fill="none" stroke="#1a1718" stroke-width="0.95"/>
<circle cx="326.48" cy="490.17" r="2.5" fill="none" stroke="#1a1718" stroke-width="0.95"/>
<circle cx="327.52" cy="490.63" r="2.5" fill="none" stroke="#1a1718" stroke-width="0.95"/>
<circle cx="327.44" cy="492.18" r="2.5" fill="none" stroke="#1a1718" stroke-width="0.95"/>
<circle cx="326.79" cy="492.90" r="2.5" fill="none" stroke="#1a1718" stroke-width="0.95"/>
<circle cx="329.91" cy="494.80" r="2.5" fill="none" stroke="#1a1718" stroke-width="0.95"/>
<circle cx="328.30" cy="495.17" r="2.5" fill="none" stroke="#1a1718" stroke-width="0.95"/>
<circle cx="325.78" cy="497.21" r="2.5" fill="none" stroke="#1a1718" stroke-width="0.95"/>
<circle cx="326.17" cy="498.50" r="2.5" fill="none" stroke="#1a1718" stroke-width="0.95"/>
<circle cx="328.24" cy="499.40" r="2.5" fill="none" stroke="#1a1718" stroke-width="0.95"/>
<circle cx="327.07" cy="500.62" r="2.5" fill="none" stroke="#1a1718" stroke-width="0.95"/>
<circle cx="328.40" cy="501.56" r="2.5" fill="none" stroke="#1a1718" stroke-width="0.95"/>
<circle cx="328.76" cy="502.76" r="2.5" fill="none" stroke="#1a1718" stroke-width="0.95"/>
<circle cx="327.70" cy="503.97" r="2.5" fill="none" stroke="#1a1718" stroke-width="0.95"/>
<circle cx="328.57" cy="504.65" r="2.5" fill="none" stroke="#1a1718" stroke-width="0.95"/>
<circle cx="326.73" cy="506.39" r="2.5" fill="none" stroke="#1a1718" stroke-width="0.95"/>
<circle cx="332.95" cy="491.65" r="2.5" fill="#c9c3d7" stroke="#1a1718" stroke-width="0.95"/>
<circle cx="330.70" cy="494.13" r="2.5" fill="#c9c3d7" stroke="#1a1718" stroke-width="0.95"/>
<circle cx="330.43" cy="497.35" r="2.5" fill="#c9c3d7" stroke="#1a1718" stroke-width="0.95"/>
<circle cx="331.64" cy="499.28" r="2.5" fill="#c9c3d7" stroke="#1a1718" stroke-width="0.95"/>
<circle cx="331.68" cy="501.99" r="2.5" fill="#c9c3d7" stroke="#1a1718" stroke-width="0.95"/>
<circle cx="330.18" cy="505.75" r="2.5" fill="#c9c3d7" stroke="#1a1718" stroke-width="0.95"/>
<line x1="329.90" y1="505.70" x2="329.90" y2="511.30" stroke="#231f20" stroke-width="1.15" />
<line x1="329.90" y1="515.80" x2="329.90" y2="517.50" stroke="#231f20" stroke-width="1.15" />
<line x1="325.80" y1="505.70" x2="334.00" y2="505.70" stroke="#231f20" stroke-width="1.15" />
<line x1="325.80" y1="517.50" x2="334.00" y2="517.50" stroke="#231f20" stroke-width="1.15" />
<rect x="321.90" y="511.30" width="16.00" height="4.50" fill="#c9c3d7" stroke="#231f20" stroke-width="1.2"/>
<line x1="321.90" y1="512.90" x2="337.90" y2="512.90" stroke="#0a0a0a" stroke-width="1.7" />
<text x="329.60" y="418.80" font-size="8.8" text-anchor="middle" font-weight="normal" fill="#231f20" >2.75</text>
<circle cx="364.20" cy="439.20" r="2.5" fill="#8296ab" stroke="#1a1718" stroke-width="0.95"/>
<circle cx="359.59" cy="459.01" r="2.5" fill="#8296ab" stroke="#1a1718" stroke-width="0.95"/>
<circle cx="363.77" cy="460.99" r="2.5" fill="#8296ab" stroke="#1a1718" stroke-width="0.95"/>
<circle cx="359.43" cy="462.22" r="2.5" fill="#8296ab" stroke="#1a1718" stroke-width="0.95"/>
<circle cx="361.37" cy="463.70" r="2.5" fill="#8296ab" stroke="#1a1718" stroke-width="0.95"/>
<circle cx="359.64" cy="475.89" r="2.5" fill="#8296ab" stroke="#1a1718" stroke-width="0.95"/>
<circle cx="365.45" cy="478.11" r="2.5" fill="#8296ab" stroke="#1a1718" stroke-width="0.95"/>
<circle cx="364.23" cy="479.85" r="2.5" fill="#8296ab" stroke="#1a1718" stroke-width="0.95"/>
<circle cx="365.35" cy="480.68" r="2.5" fill="#8296ab" stroke="#1a1718" stroke-width="0.95"/>
<circle cx="365.18" cy="482.79" r="2.5" fill="#8296ab" stroke="#1a1718" stroke-width="0.95"/>
<circle cx="359.84" cy="484.84" r="2.5" fill="#8296ab" stroke="#1a1718" stroke-width="0.95"/>
<circle cx="365.01" cy="486.00" r="2.5" fill="#8296ab" stroke="#1a1718" stroke-width="0.95"/>
<circle cx="361.09" cy="486.35" r="2.5" fill="#8296ab" stroke="#1a1718" stroke-width="0.95"/>
<circle cx="359.80" cy="488.40" r="2.5" fill="#8296ab" stroke="#1a1718" stroke-width="0.95"/>
<circle cx="360.58" cy="489.70" r="2.5" fill="#8296ab" stroke="#1a1718" stroke-width="0.95"/>
<circle cx="359.69" cy="490.70" r="2.5" fill="#8296ab" stroke="#1a1718" stroke-width="0.95"/>
<circle cx="364.93" cy="491.43" r="2.5" fill="#8296ab" stroke="#1a1718" stroke-width="0.95"/>
<circle cx="360.50" cy="492.16" r="2.5" fill="#8296ab" stroke="#1a1718" stroke-width="0.95"/>
<circle cx="360.88" cy="493.45" r="2.5" fill="#8296ab" stroke="#1a1718" stroke-width="0.95"/>
<circle cx="359.95" cy="493.97" r="2.5" fill="#8296ab" stroke="#1a1718" stroke-width="0.95"/>
<circle cx="365.05" cy="495.04" r="2.5" fill="#8296ab" stroke="#1a1718" stroke-width="0.95"/>
<circle cx="364.77" cy="496.43" r="2.5" fill="#8296ab" stroke="#1a1718" stroke-width="0.95"/>
<circle cx="364.02" cy="496.87" r="2.5" fill="#8296ab" stroke="#1a1718" stroke-width="0.95"/>
<circle cx="362.31" cy="497.70" r="2.5" fill="#8296ab" stroke="#1a1718" stroke-width="0.95"/>
<circle cx="361.15" cy="499.01" r="2.5" fill="#8296ab" stroke="#1a1718" stroke-width="0.95"/>
<circle cx="362.47" cy="500.04" r="2.5" fill="#8296ab" stroke="#1a1718" stroke-width="0.95"/>
<circle cx="364.68" cy="500.62" r="2.5" fill="#8296ab" stroke="#1a1718" stroke-width="0.95"/>
<circle cx="365.43" cy="501.04" r="2.5" fill="#8296ab" stroke="#1a1718" stroke-width="0.95"/>
<circle cx="361.39" cy="502.25" r="2.5" fill="#8296ab" stroke="#1a1718" stroke-width="0.95"/>
<circle cx="360.51" cy="503.16" r="2.5" fill="#8296ab" stroke="#1a1718" stroke-width="0.95"/>
<circle cx="362.62" cy="504.06" r="2.5" fill="#8296ab" stroke="#1a1718" stroke-width="0.95"/>
<circle cx="363.89" cy="504.34" r="2.5" fill="#8296ab" stroke="#1a1718" stroke-width="0.95"/>
<circle cx="359.92" cy="505.15" r="2.5" fill="#8296ab" stroke="#1a1718" stroke-width="0.95"/>
<circle cx="359.05" cy="506.10" r="2.5" fill="#8296ab" stroke="#1a1718" stroke-width="0.95"/>
<circle cx="360.44" cy="506.87" r="2.5" fill="#8296ab" stroke="#1a1718" stroke-width="0.95"/>
<circle cx="362.52" cy="486.84" r="2.5" fill="none" stroke="#1a1718" stroke-width="0.95"/>
<circle cx="360.99" cy="488.08" r="2.5" fill="none" stroke="#1a1718" stroke-width="0.95"/>
<circle cx="357.81" cy="489.04" r="2.5" fill="none" stroke="#1a1718" stroke-width="0.95"/>
<circle cx="358.52" cy="489.98" r="2.5" fill="none" stroke="#1a1718" stroke-width="0.95"/>
<circle cx="359.87" cy="492.06" r="2.5" fill="none" stroke="#1a1718" stroke-width="0.95"/>
<circle cx="362.10" cy="493.24" r="2.5" fill="none" stroke="#1a1718" stroke-width="0.95"/>
<circle cx="358.89" cy="494.05" r="2.5" fill="none" stroke="#1a1718" stroke-width="0.95"/>
<circle cx="357.91" cy="496.04" r="2.5" fill="none" stroke="#1a1718" stroke-width="0.95"/>
<circle cx="359.50" cy="496.50" r="2.5" fill="none" stroke="#1a1718" stroke-width="0.95"/>
<circle cx="359.51" cy="497.95" r="2.5" fill="none" stroke="#1a1718" stroke-width="0.95"/>
<circle cx="360.60" cy="499.42" r="2.5" fill="none" stroke="#1a1718" stroke-width="0.95"/>
<circle cx="358.78" cy="501.21" r="2.5" fill="none" stroke="#1a1718" stroke-width="0.95"/>
<circle cx="360.08" cy="502.57" r="2.5" fill="none" stroke="#1a1718" stroke-width="0.95"/>
<circle cx="362.30" cy="503.24" r="2.5" fill="none" stroke="#1a1718" stroke-width="0.95"/>
<circle cx="358.52" cy="504.69" r="2.5" fill="none" stroke="#1a1718" stroke-width="0.95"/>
<circle cx="360.86" cy="505.81" r="2.5" fill="none" stroke="#1a1718" stroke-width="0.95"/>
<circle cx="365.16" cy="489.97" r="2.5" fill="#8296ab" stroke="#1a1718" stroke-width="0.95"/>
<circle cx="363.22" cy="491.80" r="2.5" fill="#8296ab" stroke="#1a1718" stroke-width="0.95"/>
<circle cx="364.64" cy="493.74" r="2.5" fill="#8296ab" stroke="#1a1718" stroke-width="0.95"/>
<circle cx="363.54" cy="498.23" r="2.5" fill="#8296ab" stroke="#1a1718" stroke-width="0.95"/>
<circle cx="363.89" cy="501.13" r="2.5" fill="#8296ab" stroke="#1a1718" stroke-width="0.95"/>
<circle cx="364.98" cy="504.41" r="2.5" fill="#8296ab" stroke="#1a1718" stroke-width="0.95"/>
<circle cx="365.61" cy="505.18" r="2.5" fill="#8296ab" stroke="#1a1718" stroke-width="0.95"/>
<line x1="362.10" y1="507.50" x2="362.10" y2="511.30" stroke="#231f20" stroke-width="1.15" />
<line x1="362.10" y1="515.90" x2="362.10" y2="517.50" stroke="#231f20" stroke-width="1.15" />
<line x1="358.00" y1="507.50" x2="366.20" y2="507.50" stroke="#231f20" stroke-width="1.15" />
<line x1="358.00" y1="517.50" x2="366.20" y2="517.50" stroke="#231f20" stroke-width="1.15" />
<rect x="354.10" y="511.30" width="16.00" height="4.60" fill="#8296ab" stroke="#231f20" stroke-width="1.2"/>
<line x1="354.10" y1="513.80" x2="370.10" y2="513.80" stroke="#0a0a0a" stroke-width="1.7" />
<text x="361.80" y="418.80" font-size="8.8" text-anchor="middle" font-weight="normal" fill="#231f20" >2.93</text>
<circle cx="396.50" cy="437.50" r="2.5" fill="#d3a19a" stroke="#1a1718" stroke-width="0.95"/>
<circle cx="395.30" cy="452.70" r="2.5" fill="#d3a19a" stroke="#1a1718" stroke-width="0.95"/>
<circle cx="394.51" cy="461.85" r="2.5" fill="#d3a19a" stroke="#1a1718" stroke-width="0.95"/>
<circle cx="392.53" cy="467.80" r="2.5" fill="#d3a19a" stroke="#1a1718" stroke-width="0.95"/>
<circle cx="396.18" cy="469.55" r="2.5" fill="#d3a19a" stroke="#1a1718" stroke-width="0.95"/>
<circle cx="394.64" cy="471.75" r="2.5" fill="#d3a19a" stroke="#1a1718" stroke-width="0.95"/>
<circle cx="391.89" cy="475.46" r="2.5" fill="#d3a19a" stroke="#1a1718" stroke-width="0.95"/>
<circle cx="395.03" cy="475.91" r="2.5" fill="#d3a19a" stroke="#1a1718" stroke-width="0.95"/>
<circle cx="395.26" cy="478.06" r="2.5" fill="#d3a19a" stroke="#1a1718" stroke-width="0.95"/>
<circle cx="392.10" cy="480.04" r="2.5" fill="#d3a19a" stroke="#1a1718" stroke-width="0.95"/>
<circle cx="392.95" cy="480.75" r="2.5" fill="#d3a19a" stroke="#1a1718" stroke-width="0.95"/>
<circle cx="396.93" cy="481.79" r="2.5" fill="#d3a19a" stroke="#1a1718" stroke-width="0.95"/>
<circle cx="395.75" cy="484.09" r="2.5" fill="#d3a19a" stroke="#1a1718" stroke-width="0.95"/>
<circle cx="396.62" cy="484.38" r="2.5" fill="#d3a19a" stroke="#1a1718" stroke-width="0.95"/>
<circle cx="394.07" cy="486.53" r="2.5" fill="#d3a19a" stroke="#1a1718" stroke-width="0.95"/>
<circle cx="393.98" cy="487.71" r="2.5" fill="#d3a19a" stroke="#1a1718" stroke-width="0.95"/>
<circle cx="391.64" cy="488.27" r="2.5" fill="#d3a19a" stroke="#1a1718" stroke-width="0.95"/>
<circle cx="391.19" cy="489.41" r="2.5" fill="#d3a19a" stroke="#1a1718" stroke-width="0.95"/>
<circle cx="395.99" cy="490.63" r="2.5" fill="#d3a19a" stroke="#1a1718" stroke-width="0.95"/>
<circle cx="396.63" cy="492.09" r="2.5" fill="#d3a19a" stroke="#1a1718" stroke-width="0.95"/>
<circle cx="392.72" cy="493.15" r="2.5" fill="#d3a19a" stroke="#1a1718" stroke-width="0.95"/>
<circle cx="393.87" cy="494.01" r="2.5" fill="#d3a19a" stroke="#1a1718" stroke-width="0.95"/>
<circle cx="394.46" cy="495.24" r="2.5" fill="#d3a19a" stroke="#1a1718" stroke-width="0.95"/>
<circle cx="395.26" cy="495.71" r="2.5" fill="#d3a19a" stroke="#1a1718" stroke-width="0.95"/>
<circle cx="392.39" cy="497.35" r="2.5" fill="#d3a19a" stroke="#1a1718" stroke-width="0.95"/>
<circle cx="391.03" cy="498.21" r="2.5" fill="#d3a19a" stroke="#1a1718" stroke-width="0.95"/>
<circle cx="392.52" cy="498.57" r="2.5" fill="#d3a19a" stroke="#1a1718" stroke-width="0.95"/>
<circle cx="397.30" cy="499.93" r="2.5" fill="#d3a19a" stroke="#1a1718" stroke-width="0.95"/>
<circle cx="393.13" cy="500.83" r="2.5" fill="#d3a19a" stroke="#1a1718" stroke-width="0.95"/>
<circle cx="393.14" cy="501.84" r="2.5" fill="#d3a19a" stroke="#1a1718" stroke-width="0.95"/>
<circle cx="397.05" cy="502.15" r="2.5" fill="#d3a19a" stroke="#1a1718" stroke-width="0.95"/>
<circle cx="395.60" cy="503.36" r="2.5" fill="#d3a19a" stroke="#1a1718" stroke-width="0.95"/>
<circle cx="397.53" cy="504.24" r="2.5" fill="#d3a19a" stroke="#1a1718" stroke-width="0.95"/>
<circle cx="396.59" cy="504.91" r="2.5" fill="#d3a19a" stroke="#1a1718" stroke-width="0.95"/>
<circle cx="396.71" cy="505.93" r="2.5" fill="#d3a19a" stroke="#1a1718" stroke-width="0.95"/>
<circle cx="395.82" cy="506.54" r="2.5" fill="#d3a19a" stroke="#1a1718" stroke-width="0.95"/>
<circle cx="391.48" cy="486.75" r="2.5" fill="none" stroke="#1a1718" stroke-width="0.95"/>
<circle cx="392.99" cy="487.59" r="2.5" fill="none" stroke="#1a1718" stroke-width="0.95"/>
<circle cx="394.37" cy="488.73" r="2.5" fill="none" stroke="#1a1718" stroke-width="0.95"/>
<circle cx="390.13" cy="490.13" r="2.5" fill="none" stroke="#1a1718" stroke-width="0.95"/>
<circle cx="394.46" cy="491.39" r="2.5" fill="none" stroke="#1a1718" stroke-width="0.95"/>
<circle cx="390.68" cy="493.02" r="2.5" fill="none" stroke="#1a1718" stroke-width="0.95"/>
<circle cx="390.20" cy="493.91" r="2.5" fill="none" stroke="#1a1718" stroke-width="0.95"/>
<circle cx="393.04" cy="496.10" r="2.5" fill="none" stroke="#1a1718" stroke-width="0.95"/>
<circle cx="393.54" cy="497.41" r="2.5" fill="none" stroke="#1a1718" stroke-width="0.95"/>
<circle cx="392.83" cy="497.90" r="2.5" fill="none" stroke="#1a1718" stroke-width="0.95"/>
<circle cx="393.92" cy="499.60" r="2.5" fill="none" stroke="#1a1718" stroke-width="0.95"/>
<circle cx="394.28" cy="501.51" r="2.5" fill="none" stroke="#1a1718" stroke-width="0.95"/>
<circle cx="394.17" cy="501.84" r="2.5" fill="none" stroke="#1a1718" stroke-width="0.95"/>
<circle cx="394.53" cy="504.26" r="2.5" fill="none" stroke="#1a1718" stroke-width="0.95"/>
<circle cx="390.99" cy="504.52" r="2.5" fill="none" stroke="#1a1718" stroke-width="0.95"/>
<circle cx="390.17" cy="505.83" r="2.5" fill="none" stroke="#1a1718" stroke-width="0.95"/>
<circle cx="397.47" cy="484.48" r="2.5" fill="#d3a19a" stroke="#1a1718" stroke-width="0.95"/>
<circle cx="397.52" cy="487.58" r="2.5" fill="#d3a19a" stroke="#1a1718" stroke-width="0.95"/>
<circle cx="395.50" cy="491.09" r="2.5" fill="#d3a19a" stroke="#1a1718" stroke-width="0.95"/>
<circle cx="394.79" cy="492.65" r="2.5" fill="#d3a19a" stroke="#1a1718" stroke-width="0.95"/>
<circle cx="395.19" cy="497.81" r="2.5" fill="#d3a19a" stroke="#1a1718" stroke-width="0.95"/>
<circle cx="396.01" cy="499.48" r="2.5" fill="#d3a19a" stroke="#1a1718" stroke-width="0.95"/>
<circle cx="395.39" cy="501.51" r="2.5" fill="#d3a19a" stroke="#1a1718" stroke-width="0.95"/>
<circle cx="397.11" cy="505.04" r="2.5" fill="#d3a19a" stroke="#1a1718" stroke-width="0.95"/>
<line x1="394.30" y1="507.50" x2="394.30" y2="511.30" stroke="#231f20" stroke-width="1.15" />
<line x1="394.30" y1="515.90" x2="394.30" y2="517.50" stroke="#231f20" stroke-width="1.15" />
<line x1="390.20" y1="507.50" x2="398.40" y2="507.50" stroke="#231f20" stroke-width="1.15" />
<line x1="390.20" y1="517.50" x2="398.40" y2="517.50" stroke="#231f20" stroke-width="1.15" />
<rect x="386.30" y="511.30" width="16.00" height="4.60" fill="#d3a19a" stroke="#231f20" stroke-width="1.2"/>
<line x1="386.30" y1="513.80" x2="402.30" y2="513.80" stroke="#0a0a0a" stroke-width="1.7" />
<text x="394.00" y="418.80" font-size="8.8" text-anchor="middle" font-weight="normal" fill="#231f20" >2.75</text>
<circle cx="428.00" cy="455.00" r="2.5" fill="#5b7b6d" stroke="#1a1718" stroke-width="0.95"/>
<circle cx="425.29" cy="465.91" r="2.5" fill="#5b7b6d" stroke="#1a1718" stroke-width="0.95"/>
<circle cx="426.53" cy="470.95" r="2.5" fill="#5b7b6d" stroke="#1a1718" stroke-width="0.95"/>
<circle cx="427.30" cy="472.94" r="2.5" fill="#5b7b6d" stroke="#1a1718" stroke-width="0.95"/>
<circle cx="425.91" cy="473.32" r="2.5" fill="#5b7b6d" stroke="#1a1718" stroke-width="0.95"/>
<circle cx="428.34" cy="475.97" r="2.5" fill="#5b7b6d" stroke="#1a1718" stroke-width="0.95"/>
<circle cx="427.88" cy="477.50" r="2.5" fill="#5b7b6d" stroke="#1a1718" stroke-width="0.95"/>
<circle cx="424.59" cy="479.36" r="2.5" fill="#5b7b6d" stroke="#1a1718" stroke-width="0.95"/>
<circle cx="423.74" cy="481.28" r="2.5" fill="#5b7b6d" stroke="#1a1718" stroke-width="0.95"/>
<circle cx="424.28" cy="482.58" r="2.5" fill="#5b7b6d" stroke="#1a1718" stroke-width="0.95"/>
<circle cx="424.49" cy="482.82" r="2.5" fill="#5b7b6d" stroke="#1a1718" stroke-width="0.95"/>
<circle cx="429.73" cy="485.07" r="2.5" fill="#5b7b6d" stroke="#1a1718" stroke-width="0.95"/>
<circle cx="426.44" cy="485.36" r="2.5" fill="#5b7b6d" stroke="#1a1718" stroke-width="0.95"/>
<circle cx="428.50" cy="487.13" r="2.5" fill="#5b7b6d" stroke="#1a1718" stroke-width="0.95"/>
<circle cx="426.46" cy="487.92" r="2.5" fill="#5b7b6d" stroke="#1a1718" stroke-width="0.95"/>
<circle cx="428.74" cy="489.22" r="2.5" fill="#5b7b6d" stroke="#1a1718" stroke-width="0.95"/>
<circle cx="429.50" cy="490.21" r="2.5" fill="#5b7b6d" stroke="#1a1718" stroke-width="0.95"/>
<circle cx="424.57" cy="491.29" r="2.5" fill="#5b7b6d" stroke="#1a1718" stroke-width="0.95"/>
<circle cx="426.49" cy="492.74" r="2.5" fill="#5b7b6d" stroke="#1a1718" stroke-width="0.95"/>
<circle cx="427.42" cy="493.15" r="2.5" fill="#5b7b6d" stroke="#1a1718" stroke-width="0.95"/>
<circle cx="428.44" cy="494.11" r="2.5" fill="#5b7b6d" stroke="#1a1718" stroke-width="0.95"/>
<circle cx="428.44" cy="495.67" r="2.5" fill="#5b7b6d" stroke="#1a1718" stroke-width="0.95"/>
<circle cx="425.53" cy="496.54" r="2.5" fill="#5b7b6d" stroke="#1a1718" stroke-width="0.95"/>
<circle cx="425.79" cy="497.26" r="2.5" fill="#5b7b6d" stroke="#1a1718" stroke-width="0.95"/>
<circle cx="423.71" cy="498.60" r="2.5" fill="#5b7b6d" stroke="#1a1718" stroke-width="0.95"/>
<circle cx="423.29" cy="499.49" r="2.5" fill="#5b7b6d" stroke="#1a1718" stroke-width="0.95"/>
<circle cx="424.90" cy="499.77" r="2.5" fill="#5b7b6d" stroke="#1a1718" stroke-width="0.95"/>
<circle cx="426.51" cy="501.23" r="2.5" fill="#5b7b6d" stroke="#1a1718" stroke-width="0.95"/>
<circle cx="429.09" cy="501.64" r="2.5" fill="#5b7b6d" stroke="#1a1718" stroke-width="0.95"/>
<circle cx="426.24" cy="502.36" r="2.5" fill="#5b7b6d" stroke="#1a1718" stroke-width="0.95"/>
<circle cx="428.22" cy="503.43" r="2.5" fill="#5b7b6d" stroke="#1a1718" stroke-width="0.95"/>
<circle cx="427.49" cy="504.43" r="2.5" fill="#5b7b6d" stroke="#1a1718" stroke-width="0.95"/>
<circle cx="425.33" cy="504.91" r="2.5" fill="#5b7b6d" stroke="#1a1718" stroke-width="0.95"/>
<circle cx="428.82" cy="505.55" r="2.5" fill="#5b7b6d" stroke="#1a1718" stroke-width="0.95"/>
<circle cx="428.13" cy="506.74" r="2.5" fill="#5b7b6d" stroke="#1a1718" stroke-width="0.95"/>
<circle cx="424.31" cy="486.22" r="2.5" fill="none" stroke="#1a1718" stroke-width="0.95"/>
<circle cx="424.98" cy="488.33" r="2.5" fill="none" stroke="#1a1718" stroke-width="0.95"/>
<circle cx="424.42" cy="488.79" r="2.5" fill="none" stroke="#1a1718" stroke-width="0.95"/>
<circle cx="423.34" cy="491.10" r="2.5" fill="none" stroke="#1a1718" stroke-width="0.95"/>
<circle cx="423.65" cy="491.50" r="2.5" fill="none" stroke="#1a1718" stroke-width="0.95"/>
<circle cx="426.25" cy="493.49" r="2.5" fill="none" stroke="#1a1718" stroke-width="0.95"/>
<circle cx="422.95" cy="494.08" r="2.5" fill="none" stroke="#1a1718" stroke-width="0.95"/>
<circle cx="423.77" cy="495.51" r="2.5" fill="none" stroke="#1a1718" stroke-width="0.95"/>
<circle cx="422.97" cy="497.19" r="2.5" fill="none" stroke="#1a1718" stroke-width="0.95"/>
<circle cx="423.11" cy="498.24" r="2.5" fill="none" stroke="#1a1718" stroke-width="0.95"/>
<circle cx="425.70" cy="500.40" r="2.5" fill="none" stroke="#1a1718" stroke-width="0.95"/>
<circle cx="426.82" cy="500.57" r="2.5" fill="none" stroke="#1a1718" stroke-width="0.95"/>
<circle cx="424.04" cy="501.88" r="2.5" fill="none" stroke="#1a1718" stroke-width="0.95"/>
<circle cx="426.02" cy="504.35" r="2.5" fill="none" stroke="#1a1718" stroke-width="0.95"/>
<circle cx="424.29" cy="505.34" r="2.5" fill="none" stroke="#1a1718" stroke-width="0.95"/>
<circle cx="425.26" cy="505.95" r="2.5" fill="none" stroke="#1a1718" stroke-width="0.95"/>
<circle cx="427.40" cy="480.86" r="2.5" fill="#5b7b6d" stroke="#1a1718" stroke-width="0.95"/>
<circle cx="426.75" cy="486.65" r="2.5" fill="#5b7b6d" stroke="#1a1718" stroke-width="0.95"/>
<circle cx="429.59" cy="490.30" r="2.5" fill="#5b7b6d" stroke="#1a1718" stroke-width="0.95"/>
<circle cx="428.50" cy="494.55" r="2.5" fill="#5b7b6d" stroke="#1a1718" stroke-width="0.95"/>
<circle cx="428.36" cy="497.44" r="2.5" fill="#5b7b6d" stroke="#1a1718" stroke-width="0.95"/>
<circle cx="428.89" cy="498.96" r="2.5" fill="#5b7b6d" stroke="#1a1718" stroke-width="0.95"/>
<circle cx="429.40" cy="502.60" r="2.5" fill="#5b7b6d" stroke="#1a1718" stroke-width="0.95"/>
<circle cx="428.24" cy="506.75" r="2.5" fill="#5b7b6d" stroke="#1a1718" stroke-width="0.95"/>
<line x1="426.50" y1="507.50" x2="426.50" y2="511.30" stroke="#231f20" stroke-width="1.15" />
<line x1="426.50" y1="515.90" x2="426.50" y2="517.50" stroke="#231f20" stroke-width="1.15" />
<line x1="422.40" y1="507.50" x2="430.60" y2="507.50" stroke="#231f20" stroke-width="1.15" />
<line x1="422.40" y1="517.50" x2="430.60" y2="517.50" stroke="#231f20" stroke-width="1.15" />
<rect x="418.50" y="511.30" width="16.00" height="4.60" fill="#5b7b6d" stroke="#231f20" stroke-width="1.2"/>
<line x1="418.50" y1="513.80" x2="434.50" y2="513.80" stroke="#0a0a0a" stroke-width="1.7" />
<text x="426.20" y="418.80" font-size="8.8" text-anchor="middle" font-weight="normal" fill="#231f20" >2.67</text>
<text transform="translate(256.5,471.35) rotate(-90) scale(1.1090,1)" font-size="10.3" text-anchor="middle" fill="#231f20"><tspan dy="0.00">CH</tspan><tspan font-size="6.80" dy="1.50">4</tspan><tspan dy="-1.50"> Uptake (65bar)</tspan></text>
<text x="263.6" y="408.0" font-size="10" fill="#231f20">v STP/v</text>
<line x1="523.40" y1="415.10" x2="523.40" y2="526.50" stroke="#231f20" stroke-width="1.25" />
<line x1="523.40" y1="526.50" x2="684.80" y2="526.50" stroke="#231f20" stroke-width="1.25" />
<text x="514.40" y="521.90" font-size="10.2" text-anchor="end" font-weight="normal" fill="#231f20" >0.0</text>
<text x="514.40" y="493.10" font-size="10.2" text-anchor="end" font-weight="normal" fill="#231f20" >1.5</text>
<text x="514.40" y="464.30" font-size="10.2" text-anchor="end" font-weight="normal" fill="#231f20" >3.0</text>
<text x="514.40" y="435.50" font-size="10.2" text-anchor="end" font-weight="normal" fill="#231f20" >4.5</text>
<circle cx="540.98" cy="426.35" r="2.5" fill="#cbcacb" stroke="#1a1718" stroke-width="0.95"/>
<circle cx="537.47" cy="428.11" r="2.5" fill="#cbcacb" stroke="#1a1718" stroke-width="0.95"/>
<circle cx="541.87" cy="430.43" r="2.5" fill="#cbcacb" stroke="#1a1718" stroke-width="0.95"/>
<circle cx="540.65" cy="432.14" r="2.5" fill="#cbcacb" stroke="#1a1718" stroke-width="0.95"/>
<circle cx="540.51" cy="433.80" r="2.5" fill="#cbcacb" stroke="#1a1718" stroke-width="0.95"/>
<circle cx="538.99" cy="434.97" r="2.5" fill="#cbcacb" stroke="#1a1718" stroke-width="0.95"/>
<circle cx="540.17" cy="435.93" r="2.5" fill="#cbcacb" stroke="#1a1718" stroke-width="0.95"/>
<circle cx="538.76" cy="437.04" r="2.5" fill="#cbcacb" stroke="#1a1718" stroke-width="0.95"/>
<circle cx="540.74" cy="439.33" r="2.5" fill="#cbcacb" stroke="#1a1718" stroke-width="0.95"/>
<circle cx="537.61" cy="440.45" r="2.5" fill="#cbcacb" stroke="#1a1718" stroke-width="0.95"/>
<circle cx="539.00" cy="441.48" r="2.5" fill="#cbcacb" stroke="#1a1718" stroke-width="0.95"/>
<circle cx="538.69" cy="443.01" r="2.5" fill="#cbcacb" stroke="#1a1718" stroke-width="0.95"/>
<circle cx="542.20" cy="444.32" r="2.5" fill="#cbcacb" stroke="#1a1718" stroke-width="0.95"/>
<circle cx="540.34" cy="444.95" r="2.5" fill="#cbcacb" stroke="#1a1718" stroke-width="0.95"/>
<circle cx="538.55" cy="446.89" r="2.5" fill="#cbcacb" stroke="#1a1718" stroke-width="0.95"/>
<circle cx="542.50" cy="447.74" r="2.5" fill="#cbcacb" stroke="#1a1718" stroke-width="0.95"/>
<circle cx="539.59" cy="448.39" r="2.5" fill="#cbcacb" stroke="#1a1718" stroke-width="0.95"/>
<circle cx="541.20" cy="449.70" r="2.5" fill="#cbcacb" stroke="#1a1718" stroke-width="0.95"/>
<circle cx="539.43" cy="451.76" r="2.5" fill="#cbcacb" stroke="#1a1718" stroke-width="0.95"/>
<circle cx="539.80" cy="451.94" r="2.5" fill="#cbcacb" stroke="#1a1718" stroke-width="0.95"/>
<circle cx="540.77" cy="453.57" r="2.5" fill="#cbcacb" stroke="#1a1718" stroke-width="0.95"/>
<circle cx="540.24" cy="454.66" r="2.5" fill="#cbcacb" stroke="#1a1718" stroke-width="0.95"/>
<circle cx="539.45" cy="456.12" r="2.5" fill="#cbcacb" stroke="#1a1718" stroke-width="0.95"/>
<circle cx="542.32" cy="456.76" r="2.5" fill="#cbcacb" stroke="#1a1718" stroke-width="0.95"/>
<circle cx="538.38" cy="440.36" r="2.5" fill="none" stroke="#1a1718" stroke-width="0.95"/>
<circle cx="538.76" cy="442.37" r="2.5" fill="none" stroke="#1a1718" stroke-width="0.95"/>
<circle cx="539.83" cy="443.61" r="2.5" fill="none" stroke="#1a1718" stroke-width="0.95"/>
<circle cx="535.37" cy="445.70" r="2.5" fill="none" stroke="#1a1718" stroke-width="0.95"/>
<circle cx="537.02" cy="447.27" r="2.5" fill="none" stroke="#1a1718" stroke-width="0.95"/>
<circle cx="537.11" cy="448.52" r="2.5" fill="none" stroke="#1a1718" stroke-width="0.95"/>
<circle cx="538.45" cy="450.91" r="2.5" fill="none" stroke="#1a1718" stroke-width="0.95"/>
<circle cx="536.37" cy="452.50" r="2.5" fill="none" stroke="#1a1718" stroke-width="0.95"/>
<circle cx="538.66" cy="453.98" r="2.5" fill="none" stroke="#1a1718" stroke-width="0.95"/>
<circle cx="537.63" cy="456.90" r="2.5" fill="none" stroke="#1a1718" stroke-width="0.95"/>
<circle cx="542.43" cy="443.47" r="2.5" fill="#cbcacb" stroke="#1a1718" stroke-width="0.95"/>
<circle cx="540.22" cy="448.45" r="2.5" fill="#cbcacb" stroke="#1a1718" stroke-width="0.95"/>
<circle cx="542.34" cy="451.06" r="2.5" fill="#cbcacb" stroke="#1a1718" stroke-width="0.95"/>
<circle cx="541.80" cy="456.43" r="2.5" fill="#cbcacb" stroke="#1a1718" stroke-width="0.95"/>
<line x1="539.30" y1="457.10" x2="539.30" y2="488.70" stroke="#231f20" stroke-width="1.15" />
<line x1="539.30" y1="510.70" x2="539.30" y2="517.40" stroke="#231f20" stroke-width="1.15" />
<line x1="535.20" y1="457.10" x2="543.40" y2="457.10" stroke="#231f20" stroke-width="1.15" />
<line x1="535.20" y1="517.40" x2="543.40" y2="517.40" stroke="#231f20" stroke-width="1.15" />
<rect x="531.30" y="488.70" width="16.00" height="22.00" fill="#cbcacb" stroke="#231f20" stroke-width="1.2"/>
<line x1="531.30" y1="501.60" x2="547.30" y2="501.60" stroke="#0a0a0a" stroke-width="1.7" />
<text x="539.00" y="418.80" font-size="8.8" text-anchor="middle" font-weight="normal" fill="#231f20" >1.10</text>
<circle cx="574.00" cy="432.90" r="2.5" fill="#c9c3d7" stroke="#1a1718" stroke-width="0.95"/>
<circle cx="574.80" cy="442.20" r="2.5" fill="#c9c3d7" stroke="#1a1718" stroke-width="0.95"/>
<circle cx="571.92" cy="447.48" r="2.5" fill="#c9c3d7" stroke="#1a1718" stroke-width="0.95"/>
<circle cx="574.63" cy="449.55" r="2.5" fill="#c9c3d7" stroke="#1a1718" stroke-width="0.95"/>
<circle cx="572.44" cy="452.18" r="2.5" fill="#c9c3d7" stroke="#1a1718" stroke-width="0.95"/>
<circle cx="573.63" cy="455.25" r="2.5" fill="#c9c3d7" stroke="#1a1718" stroke-width="0.95"/>
<circle cx="570.11" cy="456.53" r="2.5" fill="#c9c3d7" stroke="#1a1718" stroke-width="0.95"/>
<circle cx="568.97" cy="458.58" r="2.5" fill="#c9c3d7" stroke="#1a1718" stroke-width="0.95"/>
<circle cx="570.52" cy="460.91" r="2.5" fill="#c9c3d7" stroke="#1a1718" stroke-width="0.95"/>
<circle cx="569.93" cy="462.70" r="2.5" fill="#c9c3d7" stroke="#1a1718" stroke-width="0.95"/>
<circle cx="569.84" cy="463.60" r="2.5" fill="#c9c3d7" stroke="#1a1718" stroke-width="0.95"/>
<circle cx="569.38" cy="465.37" r="2.5" fill="#c9c3d7" stroke="#1a1718" stroke-width="0.95"/>
<circle cx="573.00" cy="466.33" r="2.5" fill="#c9c3d7" stroke="#1a1718" stroke-width="0.95"/>
<circle cx="569.78" cy="468.41" r="2.5" fill="#c9c3d7" stroke="#1a1718" stroke-width="0.95"/>
<circle cx="571.36" cy="470.04" r="2.5" fill="#c9c3d7" stroke="#1a1718" stroke-width="0.95"/>
<circle cx="572.43" cy="471.81" r="2.5" fill="#c9c3d7" stroke="#1a1718" stroke-width="0.95"/>
<circle cx="570.57" cy="473.71" r="2.5" fill="#c9c3d7" stroke="#1a1718" stroke-width="0.95"/>
<circle cx="573.89" cy="475.63" r="2.5" fill="#c9c3d7" stroke="#1a1718" stroke-width="0.95"/>
<circle cx="573.71" cy="475.83" r="2.5" fill="#c9c3d7" stroke="#1a1718" stroke-width="0.95"/>
<circle cx="573.42" cy="478.57" r="2.5" fill="#c9c3d7" stroke="#1a1718" stroke-width="0.95"/>
<circle cx="573.74" cy="478.92" r="2.5" fill="#c9c3d7" stroke="#1a1718" stroke-width="0.95"/>
<circle cx="568.23" cy="481.08" r="2.5" fill="#c9c3d7" stroke="#1a1718" stroke-width="0.95"/>
<circle cx="574.55" cy="481.63" r="2.5" fill="#c9c3d7" stroke="#1a1718" stroke-width="0.95"/>
<circle cx="569.81" cy="483.97" r="2.5" fill="#c9c3d7" stroke="#1a1718" stroke-width="0.95"/>
<circle cx="569.09" cy="484.60" r="2.5" fill="#c9c3d7" stroke="#1a1718" stroke-width="0.95"/>
<circle cx="573.37" cy="486.19" r="2.5" fill="#c9c3d7" stroke="#1a1718" stroke-width="0.95"/>
<circle cx="569.16" cy="487.73" r="2.5" fill="#c9c3d7" stroke="#1a1718" stroke-width="0.95"/>
<circle cx="573.47" cy="489.87" r="2.5" fill="#c9c3d7" stroke="#1a1718" stroke-width="0.95"/>
<circle cx="571.58" cy="472.30" r="2.5" fill="none" stroke="#1a1718" stroke-width="0.95"/>
<circle cx="571.05" cy="474.90" r="2.5" fill="none" stroke="#1a1718" stroke-width="0.95"/>
<circle cx="571.59" cy="476.80" r="2.5" fill="none" stroke="#1a1718" stroke-width="0.95"/>
<circle cx="571.33" cy="478.82" r="2.5" fill="none" stroke="#1a1718" stroke-width="0.95"/>
<circle cx="570.63" cy="479.56" r="2.5" fill="none" stroke="#1a1718" stroke-width="0.95"/>
<circle cx="570.86" cy="481.96" r="2.5" fill="none" stroke="#1a1718" stroke-width="0.95"/>
<circle cx="571.54" cy="483.59" r="2.5" fill="none" stroke="#1a1718" stroke-width="0.95"/>
<circle cx="568.57" cy="485.60" r="2.5" fill="none" stroke="#1a1718" stroke-width="0.95"/>
<circle cx="567.97" cy="486.82" r="2.5" fill="none" stroke="#1a1718" stroke-width="0.95"/>
<circle cx="567.58" cy="489.09" r="2.5" fill="none" stroke="#1a1718" stroke-width="0.95"/>
<circle cx="572.17" cy="476.87" r="2.5" fill="#c9c3d7" stroke="#1a1718" stroke-width="0.95"/>
<circle cx="573.49" cy="481.27" r="2.5" fill="#c9c3d7" stroke="#1a1718" stroke-width="0.95"/>
<circle cx="574.86" cy="485.12" r="2.5" fill="#c9c3d7" stroke="#1a1718" stroke-width="0.95"/>
<circle cx="574.78" cy="486.73" r="2.5" fill="#c9c3d7" stroke="#1a1718" stroke-width="0.95"/>
<line x1="571.50" y1="492.10" x2="571.50" y2="505.70" stroke="#231f20" stroke-width="1.15" />
<line x1="571.50" y1="513.60" x2="571.50" y2="517.40" stroke="#231f20" stroke-width="1.15" />
<line x1="567.40" y1="492.10" x2="575.60" y2="492.10" stroke="#231f20" stroke-width="1.15" />
<line x1="567.40" y1="517.40" x2="575.60" y2="517.40" stroke="#231f20" stroke-width="1.15" />
<rect x="563.50" y="505.70" width="16.00" height="7.90" fill="#c9c3d7" stroke="#231f20" stroke-width="1.2"/>
<line x1="563.50" y1="510.70" x2="579.50" y2="510.70" stroke="#0a0a0a" stroke-width="1.7" />
<text x="571.20" y="418.80" font-size="8.8" text-anchor="middle" font-weight="normal" fill="#231f20" >0.512</text>
<circle cx="605.10" cy="431.20" r="2.5" fill="#8296ab" stroke="#1a1718" stroke-width="0.95"/>
<circle cx="603.30" cy="437.50" r="2.5" fill="#8296ab" stroke="#1a1718" stroke-width="0.95"/>
<circle cx="601.70" cy="440.60" r="2.5" fill="#8296ab" stroke="#1a1718" stroke-width="0.95"/>
<circle cx="604.40" cy="449.20" r="2.5" fill="#8296ab" stroke="#1a1718" stroke-width="0.95"/>
<circle cx="607.20" cy="449.20" r="2.5" fill="#8296ab" stroke="#1a1718" stroke-width="0.95"/>
<circle cx="604.12" cy="457.50" r="2.5" fill="#8296ab" stroke="#1a1718" stroke-width="0.95"/>
<circle cx="606.00" cy="460.14" r="2.5" fill="#8296ab" stroke="#1a1718" stroke-width="0.95"/>
<circle cx="603.15" cy="461.50" r="2.5" fill="#8296ab" stroke="#1a1718" stroke-width="0.95"/>
<circle cx="600.83" cy="464.28" r="2.5" fill="#8296ab" stroke="#1a1718" stroke-width="0.95"/>
<circle cx="604.62" cy="465.39" r="2.5" fill="#8296ab" stroke="#1a1718" stroke-width="0.95"/>
<circle cx="604.44" cy="466.02" r="2.5" fill="#8296ab" stroke="#1a1718" stroke-width="0.95"/>
<circle cx="606.61" cy="468.59" r="2.5" fill="#8296ab" stroke="#1a1718" stroke-width="0.95"/>
<circle cx="606.95" cy="469.55" r="2.5" fill="#8296ab" stroke="#1a1718" stroke-width="0.95"/>
<circle cx="603.60" cy="471.27" r="2.5" fill="#8296ab" stroke="#1a1718" stroke-width="0.95"/>
<circle cx="600.55" cy="473.23" r="2.5" fill="#8296ab" stroke="#1a1718" stroke-width="0.95"/>
<circle cx="604.55" cy="474.37" r="2.5" fill="#8296ab" stroke="#1a1718" stroke-width="0.95"/>
<circle cx="606.14" cy="475.21" r="2.5" fill="#8296ab" stroke="#1a1718" stroke-width="0.95"/>
<circle cx="603.53" cy="476.59" r="2.5" fill="#8296ab" stroke="#1a1718" stroke-width="0.95"/>
<circle cx="605.53" cy="478.12" r="2.5" fill="#8296ab" stroke="#1a1718" stroke-width="0.95"/>
<circle cx="603.26" cy="479.01" r="2.5" fill="#8296ab" stroke="#1a1718" stroke-width="0.95"/>
<circle cx="604.06" cy="480.57" r="2.5" fill="#8296ab" stroke="#1a1718" stroke-width="0.95"/>
<circle cx="602.30" cy="482.35" r="2.5" fill="#8296ab" stroke="#1a1718" stroke-width="0.95"/>
<circle cx="603.05" cy="483.59" r="2.5" fill="#8296ab" stroke="#1a1718" stroke-width="0.95"/>
<circle cx="602.16" cy="484.43" r="2.5" fill="#8296ab" stroke="#1a1718" stroke-width="0.95"/>
<circle cx="606.91" cy="485.65" r="2.5" fill="#8296ab" stroke="#1a1718" stroke-width="0.95"/>
<circle cx="605.67" cy="487.04" r="2.5" fill="#8296ab" stroke="#1a1718" stroke-width="0.95"/>
<circle cx="602.47" cy="487.85" r="2.5" fill="#8296ab" stroke="#1a1718" stroke-width="0.95"/>
<circle cx="604.28" cy="489.00" r="2.5" fill="#8296ab" stroke="#1a1718" stroke-width="0.95"/>
<circle cx="605.62" cy="490.57" r="2.5" fill="#8296ab" stroke="#1a1718" stroke-width="0.95"/>
<circle cx="602.97" cy="468.08" r="2.5" fill="none" stroke="#1a1718" stroke-width="0.95"/>
<circle cx="602.12" cy="471.61" r="2.5" fill="none" stroke="#1a1718" stroke-width="0.95"/>
<circle cx="600.94" cy="471.93" r="2.5" fill="none" stroke="#1a1718" stroke-width="0.95"/>
<circle cx="600.41" cy="473.76" r="2.5" fill="none" stroke="#1a1718" stroke-width="0.95"/>
<circle cx="602.42" cy="477.43" r="2.5" fill="none" stroke="#1a1718" stroke-width="0.95"/>
<circle cx="603.29" cy="478.84" r="2.5" fill="none" stroke="#1a1718" stroke-width="0.95"/>
<circle cx="602.44" cy="481.24" r="2.5" fill="none" stroke="#1a1718" stroke-width="0.95"/>
<circle cx="602.51" cy="482.60" r="2.5" fill="none" stroke="#1a1718" stroke-width="0.95"/>
<circle cx="602.36" cy="484.67" r="2.5" fill="none" stroke="#1a1718" stroke-width="0.95"/>
<circle cx="600.52" cy="486.56" r="2.5" fill="none" stroke="#1a1718" stroke-width="0.95"/>
<circle cx="601.70" cy="488.45" r="2.5" fill="none" stroke="#1a1718" stroke-width="0.95"/>
<circle cx="599.99" cy="490.55" r="2.5" fill="none" stroke="#1a1718" stroke-width="0.95"/>
<circle cx="603.96" cy="471.48" r="2.5" fill="#8296ab" stroke="#1a1718" stroke-width="0.95"/>
<circle cx="607.25" cy="479.17" r="2.5" fill="#8296ab" stroke="#1a1718" stroke-width="0.95"/>
<circle cx="605.21" cy="482.66" r="2.5" fill="#8296ab" stroke="#1a1718" stroke-width="0.95"/>
<circle cx="606.77" cy="486.94" r="2.5" fill="#8296ab" stroke="#1a1718" stroke-width="0.95"/>
<circle cx="604.79" cy="489.52" r="2.5" fill="#8296ab" stroke="#1a1718" stroke-width="0.95"/>
<line x1="603.70" y1="492.40" x2="603.70" y2="505.00" stroke="#231f20" stroke-width="1.15" />
<line x1="603.70" y1="514.20" x2="603.70" y2="517.40" stroke="#231f20" stroke-width="1.15" />
<line x1="599.60" y1="492.40" x2="607.80" y2="492.40" stroke="#231f20" stroke-width="1.15" />
<line x1="599.60" y1="517.40" x2="607.80" y2="517.40" stroke="#231f20" stroke-width="1.15" />
<rect x="595.70" y="505.00" width="16.00" height="9.20" fill="#8296ab" stroke="#231f20" stroke-width="1.2"/>
<line x1="595.70" y1="511.70" x2="611.70" y2="511.70" stroke="#0a0a0a" stroke-width="1.7" />
<text x="603.40" y="418.80" font-size="8.8" text-anchor="middle" font-weight="normal" fill="#231f20" >0.549</text>
<circle cx="639.00" cy="429.30" r="2.5" fill="#d3a19a" stroke="#1a1718" stroke-width="0.95"/>
<circle cx="639.50" cy="432.90" r="2.5" fill="#d3a19a" stroke="#1a1718" stroke-width="0.95"/>
<circle cx="634.30" cy="435.90" r="2.5" fill="#d3a19a" stroke="#1a1718" stroke-width="0.95"/>
<circle cx="634.30" cy="449.20" r="2.5" fill="#d3a19a" stroke="#1a1718" stroke-width="0.95"/>
<circle cx="635.37" cy="453.80" r="2.5" fill="#d3a19a" stroke="#1a1718" stroke-width="0.95"/>
<circle cx="635.43" cy="456.26" r="2.5" fill="#d3a19a" stroke="#1a1718" stroke-width="0.95"/>
<circle cx="638.83" cy="458.91" r="2.5" fill="#d3a19a" stroke="#1a1718" stroke-width="0.95"/>
<circle cx="636.36" cy="459.68" r="2.5" fill="#d3a19a" stroke="#1a1718" stroke-width="0.95"/>
<circle cx="633.33" cy="461.43" r="2.5" fill="#d3a19a" stroke="#1a1718" stroke-width="0.95"/>
<circle cx="636.41" cy="464.37" r="2.5" fill="#d3a19a" stroke="#1a1718" stroke-width="0.95"/>
<circle cx="635.54" cy="466.12" r="2.5" fill="#d3a19a" stroke="#1a1718" stroke-width="0.95"/>
<circle cx="635.14" cy="466.27" r="2.5" fill="#d3a19a" stroke="#1a1718" stroke-width="0.95"/>
<circle cx="638.85" cy="468.66" r="2.5" fill="#d3a19a" stroke="#1a1718" stroke-width="0.95"/>
<circle cx="635.73" cy="470.69" r="2.5" fill="#d3a19a" stroke="#1a1718" stroke-width="0.95"/>
<circle cx="633.21" cy="471.31" r="2.5" fill="#d3a19a" stroke="#1a1718" stroke-width="0.95"/>
<circle cx="633.96" cy="473.05" r="2.5" fill="#d3a19a" stroke="#1a1718" stroke-width="0.95"/>
<circle cx="632.63" cy="473.76" r="2.5" fill="#d3a19a" stroke="#1a1718" stroke-width="0.95"/>
<circle cx="637.14" cy="474.93" r="2.5" fill="#d3a19a" stroke="#1a1718" stroke-width="0.95"/>
<circle cx="639.05" cy="476.45" r="2.5" fill="#d3a19a" stroke="#1a1718" stroke-width="0.95"/>
<circle cx="638.39" cy="477.74" r="2.5" fill="#d3a19a" stroke="#1a1718" stroke-width="0.95"/>
<circle cx="632.64" cy="479.11" r="2.5" fill="#d3a19a" stroke="#1a1718" stroke-width="0.95"/>
<circle cx="634.16" cy="481.18" r="2.5" fill="#d3a19a" stroke="#1a1718" stroke-width="0.95"/>
<circle cx="633.79" cy="482.47" r="2.5" fill="#d3a19a" stroke="#1a1718" stroke-width="0.95"/>
<circle cx="637.75" cy="482.88" r="2.5" fill="#d3a19a" stroke="#1a1718" stroke-width="0.95"/>
<circle cx="638.30" cy="484.97" r="2.5" fill="#d3a19a" stroke="#1a1718" stroke-width="0.95"/>
<circle cx="633.09" cy="486.23" r="2.5" fill="#d3a19a" stroke="#1a1718" stroke-width="0.95"/>
<circle cx="637.31" cy="487.33" r="2.5" fill="#d3a19a" stroke="#1a1718" stroke-width="0.95"/>
<circle cx="638.82" cy="488.35" r="2.5" fill="#d3a19a" stroke="#1a1718" stroke-width="0.95"/>
<circle cx="636.33" cy="470.42" r="2.5" fill="none" stroke="#1a1718" stroke-width="0.95"/>
<circle cx="631.75" cy="472.86" r="2.5" fill="none" stroke="#1a1718" stroke-width="0.95"/>
<circle cx="634.82" cy="473.36" r="2.5" fill="none" stroke="#1a1718" stroke-width="0.95"/>
<circle cx="632.08" cy="476.36" r="2.5" fill="none" stroke="#1a1718" stroke-width="0.95"/>
<circle cx="635.20" cy="477.19" r="2.5" fill="none" stroke="#1a1718" stroke-width="0.95"/>
<circle cx="635.83" cy="478.61" r="2.5" fill="none" stroke="#1a1718" stroke-width="0.95"/>
<circle cx="631.99" cy="480.81" r="2.5" fill="none" stroke="#1a1718" stroke-width="0.95"/>
<circle cx="634.46" cy="482.28" r="2.5" fill="none" stroke="#1a1718" stroke-width="0.95"/>
<circle cx="634.95" cy="484.06" r="2.5" fill="none" stroke="#1a1718" stroke-width="0.95"/>
<circle cx="635.53" cy="485.24" r="2.5" fill="none" stroke="#1a1718" stroke-width="0.95"/>
<circle cx="634.80" cy="487.27" r="2.5" fill="none" stroke="#1a1718" stroke-width="0.95"/>
<circle cx="633.71" cy="489.38" r="2.5" fill="none" stroke="#1a1718" stroke-width="0.95"/>
<circle cx="638.97" cy="474.32" r="2.5" fill="#d3a19a" stroke="#1a1718" stroke-width="0.95"/>
<circle cx="638.97" cy="480.46" r="2.5" fill="#d3a19a" stroke="#1a1718" stroke-width="0.95"/>
<circle cx="637.12" cy="482.56" r="2.5" fill="#d3a19a" stroke="#1a1718" stroke-width="0.95"/>
<circle cx="639.68" cy="484.15" r="2.5" fill="#d3a19a" stroke="#1a1718" stroke-width="0.95"/>
<circle cx="639.13" cy="489.14" r="2.5" fill="#d3a19a" stroke="#1a1718" stroke-width="0.95"/>
<line x1="635.90" y1="492.40" x2="635.90" y2="504.40" stroke="#231f20" stroke-width="1.15" />
<line x1="635.90" y1="514.20" x2="635.90" y2="517.40" stroke="#231f20" stroke-width="1.15" />
<line x1="631.80" y1="492.40" x2="640.00" y2="492.40" stroke="#231f20" stroke-width="1.15" />
<line x1="631.80" y1="517.40" x2="640.00" y2="517.40" stroke="#231f20" stroke-width="1.15" />
<rect x="627.90" y="504.40" width="16.00" height="9.80" fill="#d3a19a" stroke="#231f20" stroke-width="1.2"/>
<line x1="627.90" y1="510.60" x2="643.90" y2="510.60" stroke="#0a0a0a" stroke-width="1.7" />
<text x="635.60" y="418.80" font-size="8.8" text-anchor="middle" font-weight="normal" fill="#231f20" >0.567</text>
<circle cx="666.40" cy="439.20" r="2.5" fill="#5b7b6d" stroke="#1a1718" stroke-width="0.95"/>
<circle cx="668.70" cy="443.80" r="2.5" fill="#5b7b6d" stroke="#1a1718" stroke-width="0.95"/>
<circle cx="668.00" cy="449.20" r="2.5" fill="#5b7b6d" stroke="#1a1718" stroke-width="0.95"/>
<circle cx="668.81" cy="457.10" r="2.5" fill="#5b7b6d" stroke="#1a1718" stroke-width="0.95"/>
<circle cx="670.34" cy="460.60" r="2.5" fill="#5b7b6d" stroke="#1a1718" stroke-width="0.95"/>
<circle cx="666.81" cy="461.73" r="2.5" fill="#5b7b6d" stroke="#1a1718" stroke-width="0.95"/>
<circle cx="670.72" cy="463.14" r="2.5" fill="#5b7b6d" stroke="#1a1718" stroke-width="0.95"/>
<circle cx="669.35" cy="464.68" r="2.5" fill="#5b7b6d" stroke="#1a1718" stroke-width="0.95"/>
<circle cx="670.77" cy="466.58" r="2.5" fill="#5b7b6d" stroke="#1a1718" stroke-width="0.95"/>
<circle cx="666.64" cy="468.36" r="2.5" fill="#5b7b6d" stroke="#1a1718" stroke-width="0.95"/>
<circle cx="666.50" cy="468.64" r="2.5" fill="#5b7b6d" stroke="#1a1718" stroke-width="0.95"/>
<circle cx="668.68" cy="470.66" r="2.5" fill="#5b7b6d" stroke="#1a1718" stroke-width="0.95"/>
<circle cx="670.72" cy="472.57" r="2.5" fill="#5b7b6d" stroke="#1a1718" stroke-width="0.95"/>
<circle cx="670.35" cy="472.87" r="2.5" fill="#5b7b6d" stroke="#1a1718" stroke-width="0.95"/>
<circle cx="670.58" cy="475.21" r="2.5" fill="#5b7b6d" stroke="#1a1718" stroke-width="0.95"/>
<circle cx="666.57" cy="476.19" r="2.5" fill="#5b7b6d" stroke="#1a1718" stroke-width="0.95"/>
<circle cx="670.17" cy="477.82" r="2.5" fill="#5b7b6d" stroke="#1a1718" stroke-width="0.95"/>
<circle cx="670.89" cy="478.87" r="2.5" fill="#5b7b6d" stroke="#1a1718" stroke-width="0.95"/>
<circle cx="665.30" cy="479.69" r="2.5" fill="#5b7b6d" stroke="#1a1718" stroke-width="0.95"/>
<circle cx="670.11" cy="481.17" r="2.5" fill="#5b7b6d" stroke="#1a1718" stroke-width="0.95"/>
<circle cx="669.79" cy="481.95" r="2.5" fill="#5b7b6d" stroke="#1a1718" stroke-width="0.95"/>
<circle cx="666.30" cy="484.02" r="2.5" fill="#5b7b6d" stroke="#1a1718" stroke-width="0.95"/>
<circle cx="669.30" cy="484.82" r="2.5" fill="#5b7b6d" stroke="#1a1718" stroke-width="0.95"/>
<circle cx="666.12" cy="485.82" r="2.5" fill="#5b7b6d" stroke="#1a1718" stroke-width="0.95"/>
<circle cx="669.80" cy="486.74" r="2.5" fill="#5b7b6d" stroke="#1a1718" stroke-width="0.95"/>
<circle cx="667.83" cy="488.50" r="2.5" fill="#5b7b6d" stroke="#1a1718" stroke-width="0.95"/>
<circle cx="670.17" cy="488.84" r="2.5" fill="#5b7b6d" stroke="#1a1718" stroke-width="0.95"/>
<circle cx="666.30" cy="490.74" r="2.5" fill="#5b7b6d" stroke="#1a1718" stroke-width="0.95"/>
<circle cx="668.21" cy="469.11" r="2.5" fill="none" stroke="#1a1718" stroke-width="0.95"/>
<circle cx="666.40" cy="471.61" r="2.5" fill="none" stroke="#1a1718" stroke-width="0.95"/>
<circle cx="666.73" cy="472.75" r="2.5" fill="none" stroke="#1a1718" stroke-width="0.95"/>
<circle cx="664.82" cy="474.11" r="2.5" fill="none" stroke="#1a1718" stroke-width="0.95"/>
<circle cx="667.27" cy="476.01" r="2.5" fill="none" stroke="#1a1718" stroke-width="0.95"/>
<circle cx="666.61" cy="478.28" r="2.5" fill="none" stroke="#1a1718" stroke-width="0.95"/>
<circle cx="666.38" cy="480.27" r="2.5" fill="none" stroke="#1a1718" stroke-width="0.95"/>
<circle cx="664.11" cy="481.70" r="2.5" fill="none" stroke="#1a1718" stroke-width="0.95"/>
<circle cx="665.70" cy="485.24" r="2.5" fill="none" stroke="#1a1718" stroke-width="0.95"/>
<circle cx="666.94" cy="485.45" r="2.5" fill="none" stroke="#1a1718" stroke-width="0.95"/>
<circle cx="664.65" cy="488.68" r="2.5" fill="none" stroke="#1a1718" stroke-width="0.95"/>
<circle cx="665.56" cy="490.23" r="2.5" fill="none" stroke="#1a1718" stroke-width="0.95"/>
<circle cx="668.30" cy="473.43" r="2.5" fill="#5b7b6d" stroke="#1a1718" stroke-width="0.95"/>
<circle cx="671.94" cy="475.95" r="2.5" fill="#5b7b6d" stroke="#1a1718" stroke-width="0.95"/>
<circle cx="670.05" cy="483.45" r="2.5" fill="#5b7b6d" stroke="#1a1718" stroke-width="0.95"/>
<circle cx="669.21" cy="486.03" r="2.5" fill="#5b7b6d" stroke="#1a1718" stroke-width="0.95"/>
<circle cx="669.82" cy="490.25" r="2.5" fill="#5b7b6d" stroke="#1a1718" stroke-width="0.95"/>
<line x1="668.10" y1="492.40" x2="668.10" y2="505.00" stroke="#231f20" stroke-width="1.15" />
<line x1="668.10" y1="514.20" x2="668.10" y2="517.40" stroke="#231f20" stroke-width="1.15" />
<line x1="664.00" y1="492.40" x2="672.20" y2="492.40" stroke="#231f20" stroke-width="1.15" />
<line x1="664.00" y1="517.40" x2="672.20" y2="517.40" stroke="#231f20" stroke-width="1.15" />
<rect x="660.10" y="505.00" width="16.00" height="9.20" fill="#5b7b6d" stroke="#231f20" stroke-width="1.2"/>
<line x1="660.10" y1="511.70" x2="676.10" y2="511.70" stroke="#0a0a0a" stroke-width="1.7" />
<text x="667.80" y="418.80" font-size="8.8" text-anchor="middle" font-weight="normal" fill="#231f20" >0.522</text>
<text transform="translate(496.5,471.75) rotate(-90) scale(1.0877,1)" font-size="10.3" text-anchor="middle" fill="#231f20"><tspan dy="0.00">CH</tspan><tspan font-size="6.80" dy="1.50">4</tspan><tspan dy="-1.50"> Heat</tspan></text>
<text x="502.6" y="407.0" font-size="9.5" fill="#231f20" letter-spacing="1.0">kJmol<tspan font-size="7.2" dy="-3.6">−</tspan><tspan font-size="7.2">1</tspan></text>
<text transform="translate(54.10,541.60) rotate(-45)" font-size="11.4" text-anchor="end" fill="#231f20">Scratch</text>
<text transform="translate(86.30,541.60) rotate(-45)" font-size="11.4" text-anchor="end" fill="#231f20">Wobasis</text>
<text transform="translate(118.50,541.60) rotate(-45)" font-size="11.4" text-anchor="end" fill="#231f20">Geo</text>
<text transform="translate(150.70,541.60) rotate(-45)" font-size="11.4" text-anchor="end" fill="#231f20">Geo+ANP</text>
<text transform="translate(182.90,541.60) rotate(-45)" font-size="11.4" text-anchor="end" fill="#231f20">Geo+ANP+SDF</text>
<text transform="translate(295.70,541.60) rotate(-45)" font-size="11.4" text-anchor="end" fill="#231f20">Scratch</text>
<text transform="translate(327.90,541.60) rotate(-45)" font-size="11.4" text-anchor="end" fill="#231f20">Wobasis</text>
<text transform="translate(360.10,541.60) rotate(-45)" font-size="11.4" text-anchor="end" fill="#231f20">Geo</text>
<text transform="translate(392.30,541.60) rotate(-45)" font-size="11.4" text-anchor="end" fill="#231f20">Geo+ANP</text>
<text transform="translate(424.50,541.60) rotate(-45)" font-size="11.4" text-anchor="end" fill="#231f20">Geo+ANP+SDF</text>
<text transform="translate(537.30,541.60) rotate(-45)" font-size="11.4" text-anchor="end" fill="#231f20">Scratch</text>
<text transform="translate(569.50,541.60) rotate(-45)" font-size="11.4" text-anchor="end" fill="#231f20">Wobasis</text>
<text transform="translate(601.70,541.60) rotate(-45)" font-size="11.4" text-anchor="end" fill="#231f20">Geo</text>
<text transform="translate(633.90,541.60) rotate(-45)" font-size="11.4" text-anchor="end" fill="#231f20">Geo+ANP</text>
<text transform="translate(666.10,541.60) rotate(-45)" font-size="11.4" text-anchor="end" fill="#231f20">Geo+ANP+SDF</text>
</svg></body></html>
